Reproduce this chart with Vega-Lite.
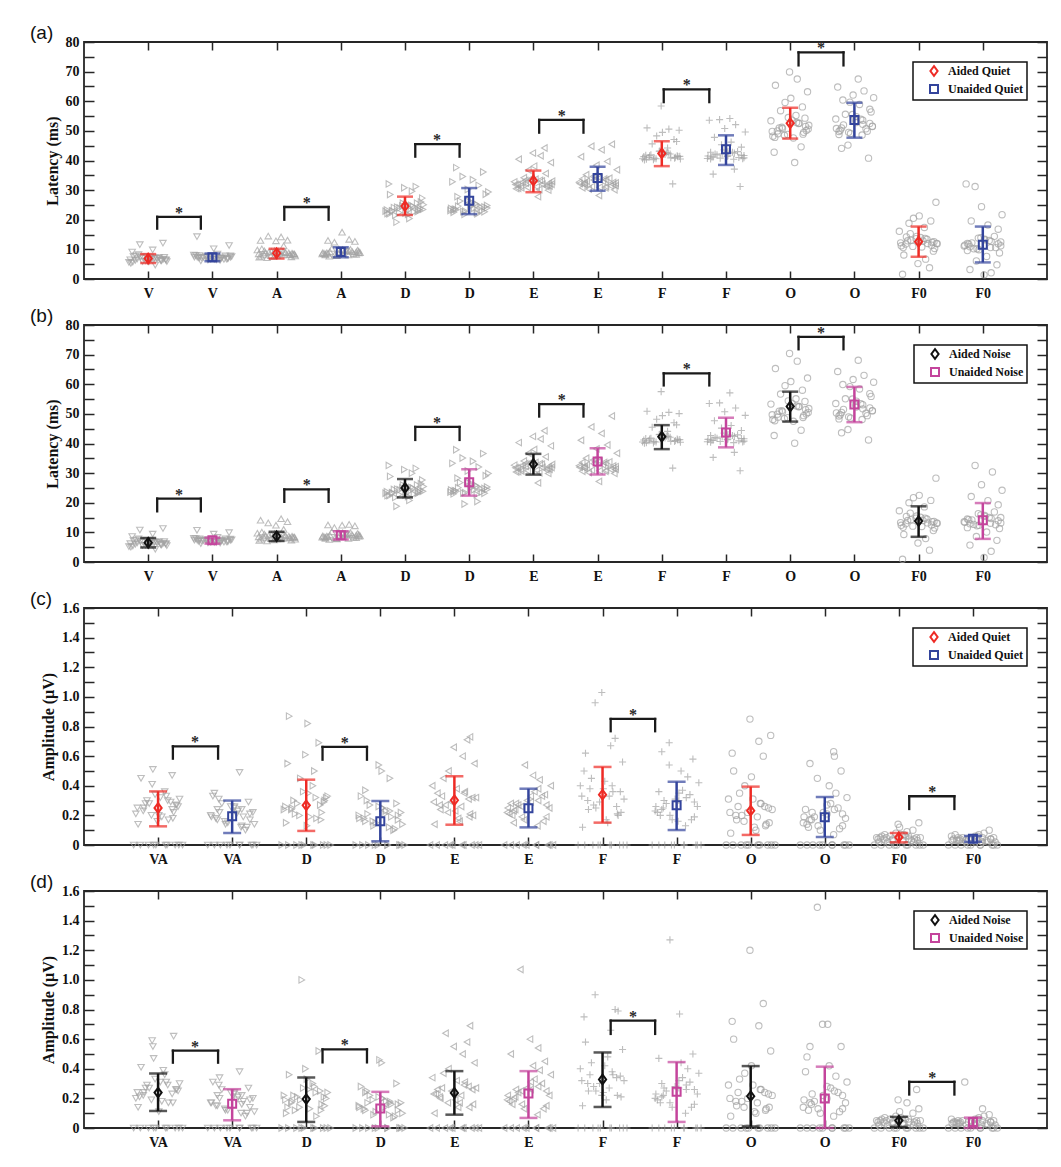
{
"$schema":"https://vega.github.io/schema/vega-lite/v6.json",
"background":"white",
"padding":{"left":29,"top":23,"right":5,"bottom":5},
"spacing":5,
"datasets":{
"ma":[{"c":1,"g":"Aided Quiet","m":6.9,"lo":5.4,"hi":8.4},{"c":2,"g":"Unaided Quiet","m":7.3,"lo":6.0,"hi":8.6},{"c":3,"g":"Aided Quiet","m":8.7,"lo":6.9,"hi":10.2},{"c":4,"g":"Unaided Quiet","m":9.1,"lo":7.3,"hi":10.7},{"c":5,"g":"Aided Quiet","m":24.6,"lo":21.6,"hi":27.8},{"c":6,"g":"Unaided Quiet","m":26.4,"lo":21.9,"hi":30.7},{"c":7,"g":"Aided Quiet","m":33.2,"lo":29.3,"hi":36.6},{"c":8,"g":"Unaided Quiet","m":34.1,"lo":29.8,"hi":37.9},{"c":9,"g":"Aided Quiet","m":42.4,"lo":38.1,"hi":46.5},{"c":10,"g":"Unaided Quiet","m":43.8,"lo":38.5,"hi":48.5},{"c":11,"g":"Aided Quiet","m":52.6,"lo":47.4,"hi":57.8},{"c":12,"g":"Unaided Quiet","m":53.7,"lo":47.7,"hi":59.5},{"c":13,"g":"Aided Quiet","m":12.6,"lo":7.5,"hi":17.7},{"c":14,"g":"Unaided Quiet","m":11.6,"lo":5.6,"hi":17.7}],
"mb":[{"c":1,"g":"Aided Noise","m":6.5,"lo":4.9,"hi":8.1},{"c":2,"g":"Unaided Noise","m":7.3,"lo":6.2,"hi":8.2},{"c":3,"g":"Aided Noise","m":8.7,"lo":7.1,"hi":10.2},{"c":4,"g":"Unaided Noise","m":9.0,"lo":7.6,"hi":10.4},{"c":5,"g":"Aided Noise","m":25.0,"lo":21.8,"hi":28.0},{"c":6,"g":"Unaided Noise","m":26.9,"lo":22.4,"hi":31.3},{"c":7,"g":"Aided Noise","m":33.0,"lo":29.5,"hi":36.5},{"c":8,"g":"Unaided Noise","m":33.9,"lo":29.5,"hi":38.4},{"c":9,"g":"Aided Noise","m":42.3,"lo":38.1,"hi":46.2},{"c":10,"g":"Unaided Noise","m":43.7,"lo":38.7,"hi":48.7},{"c":11,"g":"Aided Noise","m":52.5,"lo":47.4,"hi":57.5},{"c":12,"g":"Unaided Noise","m":53.2,"lo":47.2,"hi":59.1},{"c":13,"g":"Aided Noise","m":13.8,"lo":8.5,"hi":18.8},{"c":14,"g":"Unaided Noise","m":14.1,"lo":7.8,"hi":19.9}],
"mc":[{"c":1,"g":"Aided Quiet","m":0.25,"lo":0.126,"hi":0.362},{"c":2,"g":"Unaided Quiet","m":0.194,"lo":0.081,"hi":0.3},{"c":3,"g":"Aided Quiet","m":0.268,"lo":0.095,"hi":0.441},{"c":4,"g":"Unaided Quiet","m":0.16,"lo":0.025,"hi":0.297},{"c":5,"g":"Aided Quiet","m":0.302,"lo":0.137,"hi":0.464},{"c":6,"g":"Unaided Quiet","m":0.248,"lo":0.119,"hi":0.38},{"c":7,"g":"Aided Quiet","m":0.34,"lo":0.151,"hi":0.527},{"c":8,"g":"Unaided Quiet","m":0.268,"lo":0.101,"hi":0.427},{"c":9,"g":"Aided Quiet","m":0.232,"lo":0.068,"hi":0.394},{"c":10,"g":"Unaided Quiet","m":0.187,"lo":0.054,"hi":0.324},{"c":11,"g":"Aided Quiet","m":0.052,"lo":0.018,"hi":0.081},{"c":12,"g":"Unaided Quiet","m":0.043,"lo":0.022,"hi":0.061}],
"md":[{"c":1,"g":"Aided Noise","m":0.239,"lo":0.115,"hi":0.368},{"c":2,"g":"Unaided Noise","m":0.163,"lo":0.052,"hi":0.262},{"c":3,"g":"Aided Noise","m":0.195,"lo":0.041,"hi":0.341},{"c":4,"g":"Unaided Noise","m":0.131,"lo":0.011,"hi":0.244},{"c":5,"g":"Aided Noise","m":0.237,"lo":0.09,"hi":0.384},{"c":6,"g":"Unaided Noise","m":0.233,"lo":0.068,"hi":0.384},{"c":7,"g":"Aided Noise","m":0.328,"lo":0.142,"hi":0.51},{"c":8,"g":"Unaided Noise","m":0.244,"lo":0.041,"hi":0.445},{"c":9,"g":"Aided Noise","m":0.215,"lo":0.01,"hi":0.418},{"c":10,"g":"Unaided Noise","m":0.199,"lo":0.0,"hi":0.414},{"c":11,"g":"Aided Noise","m":0.05,"lo":0.007,"hi":0.075},{"c":12,"g":"Unaided Noise","m":0.041,"lo":0.0,"hi":0.07}],
"ba":[{"x1":1.14,"x2":1.82,"xm":1.48,"yl":17,"yh":21},{"x1":3.12,"x2":3.81,"xm":3.47,"yl":20,"yh":24.3},{"x1":5.16,"x2":5.85,"xm":5.5,"yl":41.3,"yh":45.5},{"x1":7.09,"x2":7.78,"xm":7.44,"yl":49.4,"yh":53.7},{"x1":9.03,"x2":9.74,"xm":9.39,"yl":59.7,"yh":64},{"x1":11.13,"x2":11.83,"xm":11.48,"yl":72.1,"yh":76.5}],
"bb":[{"x1":1.14,"x2":1.82,"xm":1.48,"yl":17.1,"yh":21.4},{"x1":3.12,"x2":3.81,"xm":3.47,"yl":20.3,"yh":24.5},{"x1":5.16,"x2":5.85,"xm":5.5,"yl":41.2,"yh":45.6},{"x1":7.09,"x2":7.78,"xm":7.44,"yl":49.1,"yh":53.3},{"x1":9.03,"x2":9.74,"xm":9.39,"yl":59.6,"yh":63.7},{"x1":11.13,"x2":11.83,"xm":11.48,"yl":71.8,"yh":76.0}],
"bc":[{"x1":1.2,"x2":1.81,"xm":1.5,"yl":0.583,"yh":0.666},{"x1":3.22,"x2":3.82,"xm":3.52,"yl":0.576,"yh":0.662},{"x1":7.11,"x2":7.71,"xm":7.41,"yl":0.768,"yh":0.851},{"x1":11.14,"x2":11.75,"xm":11.45,"yl":0.243,"yh":0.329}],
"bd":[{"x1":1.2,"x2":1.81,"xm":1.5,"yl":0.441,"yh":0.522},{"x1":3.22,"x2":3.82,"xm":3.52,"yl":0.443,"yh":0.531},{"x1":7.11,"x2":7.71,"xm":7.41,"yl":0.635,"yh":0.725},{"x1":11.14,"x2":11.75,"xm":11.45,"yl":0.226,"yh":0.312}],
"pa":[
{"x":0.73,"y":5.3},{"x":1.21,"y":6.2},{"x":0.88,"y":7.4},{"x":1.05,"y":6.6},{"x":1.29,"y":5.9},{"x":0.81,"y":7.8},{"x":1.14,"y":6.9},{"x":0.96,"y":6.1},{"x":1.25,"y":7.3},{"x":0.7,"y":5.6},{"x":1.09,"y":6.8},{"x":0.85,"y":8.2},{"x":1.19,"y":6.4},{"x":0.92,"y":7.1},{"x":1.01,"y":5.8},{"x":1.27,"y":6.5},{"x":0.77,"y":7.6},{"x":1.11,"y":4.7},{"x":0.99,"y":6.0},{"x":1.17,"y":7.2},{"x":0.75,"y":9.1},{"x":1.07,"y":9.8},{"x":0.87,"y":11.6},{"x":1.23,"y":12.1},
{"x":2.12,"y":6.3},{"x":1.78,"y":7.1},{"x":2.28,"y":7.8},{"x":1.94,"y":6.8},{"x":2.03,"y":7.5},{"x":1.71,"y":8.1},{"x":2.18,"y":6.6},{"x":1.86,"y":7.3},{"x":2.24,"y":7.0},{"x":2.08,"y":8.4},{"x":1.82,"y":6.1},{"x":2.3,"y":7.6},{"x":1.98,"y":6.9},{"x":2.15,"y":7.2},{"x":1.74,"y":8.0},{"x":2.06,"y":6.5},{"x":1.9,"y":7.4},{"x":2.22,"y":6.7},{"x":1.8,"y":7.9},{"x":2.13,"y":7.0},{"x":2.02,"y":10.2},{"x":1.76,"y":14.3},{"x":2.26,"y":11.3},{"x":1.93,"y":6.4},
{"x":2.73,"y":7.4},{"x":3.21,"y":8.2},{"x":2.88,"y":9.1},{"x":3.05,"y":8.6},{"x":3.29,"y":7.8},{"x":2.81,"y":9.5},{"x":3.14,"y":8.9},{"x":2.96,"y":7.6},{"x":3.25,"y":8.4},{"x":2.7,"y":9.8},{"x":3.09,"y":8.1},{"x":2.85,"y":7.2},{"x":3.19,"y":8.8},{"x":2.92,"y":9.3},{"x":3.01,"y":7.9},{"x":3.27,"y":8.5},{"x":2.77,"y":10.2},{"x":3.11,"y":11.2},{"x":2.99,"y":12.9},{"x":3.17,"y":13.1},{"x":2.75,"y":13.0},{"x":3.07,"y":14.2},{"x":2.87,"y":14.5},{"x":3.23,"y":7.5},
{"x":4.12,"y":8.1},{"x":3.78,"y":8.8},{"x":4.28,"y":9.4},{"x":3.94,"y":7.9},{"x":4.03,"y":9.9},{"x":3.71,"y":8.5},{"x":4.18,"y":9.2},{"x":3.86,"y":10.3},{"x":4.24,"y":8.3},{"x":4.08,"y":9.6},{"x":3.82,"y":7.7},{"x":4.3,"y":8.9},{"x":3.98,"y":9.1},{"x":4.15,"y":10.0},{"x":3.74,"y":8.6},{"x":4.06,"y":9.3},{"x":3.9,"y":12.4},{"x":4.22,"y":12.7},{"x":3.8,"y":13.0},{"x":4.13,"y":13.4},{"x":4.02,"y":15.8},{"x":3.76,"y":8.4},{"x":4.26,"y":9.7},{"x":3.93,"y":8.0},
{"x":4.73,"y":22.1},{"x":5.21,"y":23.4},{"x":4.88,"y":24.2},{"x":5.05,"y":21.8},{"x":5.29,"y":25.1},{"x":4.81,"y":23.0},{"x":5.14,"y":22.6},{"x":4.96,"y":24.7},{"x":5.25,"y":26.0},{"x":4.7,"y":22.9},{"x":5.09,"y":23.7},{"x":4.85,"y":21.5},{"x":5.19,"y":25.6},{"x":4.92,"y":24.0},{"x":5.01,"y":22.3},{"x":5.27,"y":27.3},{"x":4.77,"y":28.5},{"x":5.11,"y":29.6},{"x":4.99,"y":30.8},{"x":5.17,"y":31.2},{"x":4.75,"y":32.1},{"x":5.07,"y":20.4},{"x":4.87,"y":19.2},{"x":5.23,"y":23.2},
{"x":6.12,"y":22.4},{"x":5.78,"y":23.6},{"x":6.28,"y":24.8},{"x":5.94,"y":22.9},{"x":6.03,"y":25.5},{"x":5.71,"y":23.1},{"x":6.18,"y":24.2},{"x":5.86,"y":26.3},{"x":6.24,"y":22.7},{"x":6.08,"y":23.9},{"x":5.82,"y":27.8},{"x":6.3,"y":29.4},{"x":5.98,"y":30.2},{"x":6.15,"y":31.6},{"x":5.74,"y":32.8},{"x":6.06,"y":33.5},{"x":5.9,"y":34.6},{"x":6.22,"y":36.1},{"x":5.8,"y":37.6},{"x":6.13,"y":22.0},{"x":6.02,"y":24.5},{"x":5.76,"y":23.3},{"x":6.26,"y":28.6},{"x":5.93,"y":21.8},
{"x":6.73,"y":30.5},{"x":7.21,"y":31.6},{"x":6.88,"y":32.4},{"x":7.05,"y":31.1},{"x":7.29,"y":33.0},{"x":6.81,"y":30.8},{"x":7.14,"y":32.0},{"x":6.96,"y":33.6},{"x":7.25,"y":31.4},{"x":6.7,"y":32.8},{"x":7.09,"y":30.2},{"x":6.85,"y":34.2},{"x":7.19,"y":35.6},{"x":6.92,"y":36.8},{"x":7.01,"y":38.1},{"x":7.27,"y":39.3},{"x":6.77,"y":40.4},{"x":7.11,"y":41.6},{"x":6.99,"y":42.5},{"x":7.17,"y":44.2},{"x":6.75,"y":31.9},{"x":7.07,"y":27.8},{"x":6.87,"y":33.3},{"x":7.23,"y":30.0},
{"x":8.12,"y":30.8},{"x":7.78,"y":32.1},{"x":8.28,"y":31.5},{"x":7.94,"y":33.4},{"x":8.03,"y":31.0},{"x":7.71,"y":32.7},{"x":8.18,"y":34.0},{"x":7.86,"y":30.4},{"x":8.24,"y":31.9},{"x":8.08,"y":33.0},{"x":7.82,"y":35.2},{"x":8.3,"y":36.9},{"x":7.98,"y":38.4},{"x":8.15,"y":39.7},{"x":7.74,"y":41.3},{"x":8.06,"y":43.6},{"x":7.9,"y":44.8},{"x":8.22,"y":45.5},{"x":7.8,"y":32.4},{"x":8.13,"y":31.2},{"x":8.02,"y":28.2},{"x":7.76,"y":33.8},{"x":8.26,"y":30.1},{"x":7.93,"y":34.6},
{"x":8.73,"y":40.2},{"x":9.21,"y":41.1},{"x":8.88,"y":40.8},{"x":9.05,"y":42.0},{"x":9.29,"y":40.5},{"x":8.81,"y":41.6},{"x":9.14,"y":40.9},{"x":8.96,"y":43.1},{"x":9.25,"y":41.3},{"x":8.7,"y":40.6},{"x":9.09,"y":44.2},{"x":8.85,"y":45.6},{"x":9.19,"y":47.1},{"x":8.92,"y":48.3},{"x":9.01,"y":49.5},{"x":9.27,"y":50.2},{"x":8.77,"y":51.0},{"x":9.11,"y":50.6},{"x":8.99,"y":58.4},{"x":9.17,"y":32.1},{"x":8.75,"y":41.8},{"x":9.07,"y":42.6},{"x":8.87,"y":40.3},{"x":9.23,"y":46.4},
{"x":10.12,"y":40.4},{"x":9.78,"y":41.2},{"x":10.28,"y":40.9},{"x":9.94,"y":42.3},{"x":10.03,"y":41.6},{"x":9.71,"y":40.7},{"x":10.18,"y":43.0},{"x":9.86,"y":41.9},{"x":10.24,"y":44.5},{"x":10.08,"y":46.2},{"x":9.82,"y":47.8},{"x":10.3,"y":49.6},{"x":9.98,"y":50.8},{"x":10.15,"y":52.1},{"x":9.74,"y":53.6},{"x":10.06,"y":54.2},{"x":9.9,"y":53.8},{"x":10.22,"y":31.2},{"x":9.8,"y":35.4},{"x":10.13,"y":37.1},{"x":10.02,"y":41.4},{"x":9.76,"y":42.8},{"x":10.26,"y":40.6},{"x":9.93,"y":45.3},
{"x":10.73,"y":48.2},{"x":11.21,"y":49.5},{"x":10.88,"y":50.8},{"x":11.05,"y":47.6},{"x":11.29,"y":51.9},{"x":10.81,"y":49.0},{"x":11.14,"y":52.6},{"x":10.96,"y":48.8},{"x":11.25,"y":50.1},{"x":10.7,"y":53.4},{"x":11.09,"y":55.2},{"x":10.85,"y":56.8},{"x":11.19,"y":58.1},{"x":10.92,"y":59.6},{"x":11.01,"y":61.0},{"x":11.27,"y":63.2},{"x":10.77,"y":65.4},{"x":11.11,"y":67.5},{"x":10.99,"y":69.9},{"x":11.17,"y":44.6},{"x":10.75,"y":42.8},{"x":11.07,"y":39.3},{"x":10.87,"y":51.2},{"x":11.23,"y":54.3},
{"x":12.12,"y":48.6},{"x":11.78,"y":50.2},{"x":12.28,"y":51.5},{"x":11.94,"y":49.1},{"x":12.03,"y":52.8},{"x":11.71,"y":54.0},{"x":12.18,"y":50.7},{"x":11.86,"y":55.6},{"x":12.24,"y":57.3},{"x":12.08,"y":58.9},{"x":11.82,"y":60.4},{"x":12.3,"y":61.2},{"x":11.98,"y":62.1},{"x":12.15,"y":63.5},{"x":11.74,"y":64.8},{"x":12.06,"y":67.5},{"x":11.9,"y":45.2},{"x":12.22,"y":40.8},{"x":11.8,"y":44.1},{"x":12.13,"y":52.2},{"x":12.02,"y":53.5},{"x":11.76,"y":49.8},{"x":12.26,"y":56.4},{"x":11.93,"y":59.7},
{"x":12.73,"y":11.2},{"x":13.21,"y":12.4},{"x":12.88,"y":13.1},{"x":13.05,"y":10.8},{"x":13.29,"y":11.9},{"x":12.81,"y":14.2},{"x":13.14,"y":12.0},{"x":12.96,"y":13.6},{"x":13.25,"y":10.3},{"x":12.7,"y":16.1},{"x":13.09,"y":17.4},{"x":12.85,"y":18.8},{"x":13.19,"y":19.6},{"x":12.92,"y":20.5},{"x":13.01,"y":21.3},{"x":13.27,"y":25.9},{"x":12.77,"y":8.1},{"x":13.11,"y":6.7},{"x":12.99,"y":5.2},{"x":13.17,"y":3.8},{"x":12.75,"y":1.6},{"x":13.07,"y":12.8},{"x":12.87,"y":15.3},{"x":13.23,"y":9.4},
{"x":14.12,"y":10.6},{"x":13.78,"y":11.8},{"x":14.28,"y":12.5},{"x":13.94,"y":9.9},{"x":14.03,"y":13.2},{"x":13.71,"y":11.1},{"x":14.18,"y":14.4},{"x":13.86,"y":10.2},{"x":14.24,"y":16.8},{"x":14.08,"y":18.2},{"x":13.82,"y":19.6},{"x":14.3,"y":21.7},{"x":13.98,"y":24.4},{"x":13.88,"y":31.2},{"x":13.74,"y":32.1},{"x":14.06,"y":7.6},{"x":13.9,"y":6.1},{"x":14.22,"y":4.8},{"x":13.8,"y":3.2},{"x":14.13,"y":2.1},{"x":14.02,"y":1.4},{"x":13.76,"y":12.0},{"x":14.26,"y":8.8},{"x":13.93,"y":13.8},
{"x":0.8,"y":6.3},{"x":1.24,"y":6.7},{"x":0.91,"y":5.9},{"x":1.13,"y":7.0},{"x":0.72,"y":6.5},{"x":1.03,"y":7.4},{"x":1.2,"y":6.1},{"x":0.83,"y":6.8},{"x":1.1,"y":7.1},{"x":0.76,"y":5.7},{"x":1.28,"y":6.4},{"x":0.97,"y":7.6},
{"x":1.8,"y":7.2},{"x":2.24,"y":6.8},{"x":1.91,"y":7.6},{"x":2.13,"y":7.0},{"x":1.72,"y":7.4},{"x":2.03,"y":6.6},{"x":2.2,"y":7.8},{"x":1.83,"y":7.1},{"x":2.1,"y":6.9},{"x":1.76,"y":7.5},{"x":2.28,"y":7.3},{"x":1.97,"y":6.7},
{"x":2.8,"y":8.3},{"x":3.24,"y":8.7},{"x":2.91,"y":7.9},{"x":3.13,"y":9.0},{"x":2.72,"y":8.5},{"x":3.03,"y":9.4},{"x":3.2,"y":8.1},{"x":2.83,"y":8.8},{"x":3.1,"y":9.2},{"x":2.76,"y":7.7},{"x":3.28,"y":8.4},{"x":2.97,"y":9.6},
{"x":3.8,"y":8.7},{"x":4.24,"y":9.1},{"x":3.91,"y":8.3},{"x":4.13,"y":9.5},{"x":3.72,"y":8.9},{"x":4.03,"y":9.8},{"x":4.2,"y":8.5},{"x":3.83,"y":9.2},{"x":4.1,"y":9.6},{"x":3.76,"y":8.1},{"x":4.28,"y":8.8},{"x":3.97,"y":10.1},
{"x":4.8,"y":23.0},{"x":5.24,"y":23.8},{"x":4.91,"y":22.4},{"x":5.13,"y":24.5},{"x":4.72,"y":23.3},{"x":5.03,"y":25.2},{"x":5.2,"y":22.8},{"x":4.83,"y":24.1},{"x":5.1,"y":24.8},{"x":4.76,"y":22.0},{"x":5.28,"y":23.5},{"x":4.97,"y":25.6},
{"x":5.8,"y":23.4},{"x":6.24,"y":24.3},{"x":5.91,"y":22.8},{"x":6.13,"y":25.0},{"x":5.72,"y":23.8},{"x":6.03,"y":26.0},{"x":6.2,"y":23.1},{"x":5.83,"y":24.6},{"x":6.1,"y":25.4},{"x":5.76,"y":22.5},{"x":6.28,"y":24.0},{"x":5.97,"y":26.5},
{"x":6.8,"y":31.5},{"x":7.24,"y":32.3},{"x":6.91,"y":30.9},{"x":7.13,"y":33.1},{"x":6.72,"y":31.9},{"x":7.03,"y":33.7},{"x":7.2,"y":31.2},{"x":6.83,"y":32.6},{"x":7.1,"y":33.3},{"x":6.76,"y":30.6},{"x":7.28,"y":32.0},{"x":6.97,"y":34.0},
{"x":7.8,"y":31.8},{"x":8.24,"y":32.6},{"x":7.91,"y":31.2},{"x":8.13,"y":33.5},{"x":7.72,"y":32.2},{"x":8.03,"y":34.2},{"x":8.2,"y":31.5},{"x":7.83,"y":33.0},{"x":8.1,"y":33.8},{"x":7.76,"y":30.8},{"x":8.28,"y":32.4},{"x":7.97,"y":34.6},
{"x":8.8,"y":41.0},{"x":9.24,"y":41.6},{"x":8.91,"y":40.6},{"x":9.13,"y":42.2},{"x":8.72,"y":41.3},{"x":9.03,"y":42.8},{"x":9.2,"y":40.8},{"x":8.83,"y":41.9},{"x":9.1,"y":42.5},{"x":8.76,"y":40.4},{"x":9.28,"y":41.4},{"x":8.97,"y":43.2},
{"x":9.8,"y":41.2},{"x":10.24,"y":41.8},{"x":9.91,"y":40.8},{"x":10.13,"y":42.5},{"x":9.72,"y":41.5},{"x":10.03,"y":43.1},{"x":10.2,"y":41.0},{"x":9.83,"y":42.2},{"x":10.1,"y":42.8},{"x":9.76,"y":40.5},{"x":10.28,"y":41.7},{"x":9.97,"y":43.6},
{"x":10.8,"y":50.0},{"x":11.24,"y":51.5},{"x":10.91,"y":48.5},{"x":11.13,"y":52.5},{"x":10.72,"y":49.8},{"x":11.03,"y":53.6},{"x":11.2,"y":48.9},{"x":10.83,"y":51.0},{"x":11.1,"y":52.8},{"x":10.76,"y":47.8},{"x":11.28,"y":50.6},{"x":10.97,"y":54.5},
{"x":11.8,"y":51.0},{"x":12.24,"y":52.5},{"x":11.91,"y":49.5},{"x":12.13,"y":53.6},{"x":11.72,"y":50.8},{"x":12.03,"y":54.8},{"x":12.2,"y":49.9},{"x":11.83,"y":52.0},{"x":12.1,"y":53.9},{"x":11.76,"y":48.8},{"x":12.28,"y":51.6},{"x":11.97,"y":55.5},
{"x":12.8,"y":11.8},{"x":13.24,"y":12.6},{"x":12.91,"y":11.0},{"x":13.13,"y":13.4},{"x":12.72,"y":12.2},{"x":13.03,"y":14.0},{"x":13.2,"y":11.4},{"x":12.83,"y":12.9},{"x":13.1,"y":13.7},{"x":12.76,"y":10.6},{"x":13.28,"y":12.0},{"x":12.97,"y":14.4},
{"x":13.8,"y":10.9},{"x":14.24,"y":11.9},{"x":13.91,"y":10.2},{"x":14.13,"y":12.7},{"x":13.72,"y":11.4},{"x":14.03,"y":13.4},{"x":14.2,"y":10.6},{"x":13.83,"y":12.2},{"x":14.1,"y":13.0},{"x":13.76,"y":9.6},{"x":14.28,"y":11.2},{"x":13.97,"y":13.9}
],
"pb":[
{"x":0.73,"y":5.0},{"x":1.21,"y":5.8},{"x":0.88,"y":7.0},{"x":1.05,"y":6.2},{"x":1.29,"y":5.5},{"x":0.81,"y":7.4},{"x":1.14,"y":6.5},{"x":0.96,"y":5.7},{"x":1.25,"y":6.9},{"x":0.7,"y":5.2},{"x":1.09,"y":6.4},{"x":0.85,"y":7.8},{"x":1.19,"y":6.0},{"x":0.92,"y":6.7},{"x":1.01,"y":5.4},{"x":1.27,"y":6.1},{"x":0.77,"y":7.2},{"x":1.11,"y":4.3},{"x":0.99,"y":5.6},{"x":1.17,"y":6.8},{"x":0.75,"y":8.6},{"x":1.07,"y":9.4},{"x":0.87,"y":10.8},{"x":1.23,"y":11.3},
{"x":2.12,"y":6.4},{"x":1.78,"y":7.0},{"x":2.28,"y":7.7},{"x":1.94,"y":6.9},{"x":2.03,"y":7.4},{"x":1.71,"y":8.0},{"x":2.18,"y":6.7},{"x":1.86,"y":7.2},{"x":2.24,"y":7.1},{"x":2.08,"y":8.3},{"x":1.82,"y":6.2},{"x":2.3,"y":7.5},{"x":1.98,"y":6.8},{"x":2.15,"y":7.3},{"x":1.74,"y":7.9},{"x":2.06,"y":6.6},{"x":1.9,"y":7.3},{"x":2.22,"y":6.8},{"x":1.8,"y":7.8},{"x":2.13,"y":7.1},{"x":2.02,"y":9.4},{"x":1.76,"y":10.7},{"x":2.26,"y":9.9},{"x":1.93,"y":6.5},
{"x":2.73,"y":7.3},{"x":3.21,"y":8.1},{"x":2.88,"y":9.0},{"x":3.05,"y":8.5},{"x":3.29,"y":7.7},{"x":2.81,"y":9.4},{"x":3.14,"y":8.8},{"x":2.96,"y":7.5},{"x":3.25,"y":8.3},{"x":2.7,"y":9.7},{"x":3.09,"y":8.0},{"x":2.85,"y":7.1},{"x":3.19,"y":8.7},{"x":2.92,"y":9.2},{"x":3.01,"y":7.8},{"x":3.27,"y":8.4},{"x":2.77,"y":10.1},{"x":3.11,"y":11.0},{"x":2.99,"y":12.4},{"x":3.17,"y":13.6},{"x":2.75,"y":14.1},{"x":3.07,"y":14.6},{"x":2.87,"y":13.2},{"x":3.23,"y":7.4},
{"x":4.12,"y":8.0},{"x":3.78,"y":8.7},{"x":4.28,"y":9.3},{"x":3.94,"y":7.8},{"x":4.03,"y":9.8},{"x":3.71,"y":8.4},{"x":4.18,"y":9.1},{"x":3.86,"y":10.2},{"x":4.24,"y":8.2},{"x":4.08,"y":9.5},{"x":3.82,"y":7.6},{"x":4.3,"y":8.8},{"x":3.98,"y":9.0},{"x":4.15,"y":9.9},{"x":3.74,"y":8.5},{"x":4.06,"y":9.2},{"x":3.9,"y":11.6},{"x":4.22,"y":12.2},{"x":3.8,"y":12.5},{"x":4.13,"y":12.7},{"x":4.02,"y":12.4},{"x":3.76,"y":8.3},{"x":4.26,"y":9.6},{"x":3.93,"y":7.9},
{"x":4.73,"y":22.4},{"x":5.21,"y":23.8},{"x":4.88,"y":24.6},{"x":5.05,"y":22.1},{"x":5.29,"y":25.5},{"x":4.81,"y":23.3},{"x":5.14,"y":22.9},{"x":4.96,"y":25.1},{"x":5.25,"y":26.4},{"x":4.7,"y":23.2},{"x":5.09,"y":24.1},{"x":4.85,"y":21.8},{"x":5.19,"y":26.0},{"x":4.92,"y":24.4},{"x":5.01,"y":22.6},{"x":5.27,"y":27.7},{"x":4.77,"y":28.9},{"x":5.11,"y":30.0},{"x":4.99,"y":31.2},{"x":5.17,"y":31.6},{"x":4.75,"y":32.6},{"x":5.07,"y":20.8},{"x":4.87,"y":18.8},{"x":5.23,"y":23.6},
{"x":6.12,"y":22.8},{"x":5.78,"y":24.1},{"x":6.28,"y":25.3},{"x":5.94,"y":23.4},{"x":6.03,"y":26.0},{"x":5.71,"y":23.6},{"x":6.18,"y":24.7},{"x":5.86,"y":26.8},{"x":6.24,"y":23.2},{"x":6.08,"y":24.4},{"x":5.82,"y":28.3},{"x":6.3,"y":29.9},{"x":5.98,"y":30.7},{"x":6.15,"y":32.1},{"x":5.74,"y":33.3},{"x":6.06,"y":34.0},{"x":5.9,"y":35.1},{"x":6.22,"y":36.6},{"x":5.8,"y":37.9},{"x":6.13,"y":20.4},{"x":6.02,"y":25.0},{"x":5.76,"y":23.8},{"x":6.26,"y":29.1},{"x":5.93,"y":19.6},
{"x":6.73,"y":30.4},{"x":7.21,"y":31.5},{"x":6.88,"y":32.3},{"x":7.05,"y":31.0},{"x":7.29,"y":32.9},{"x":6.81,"y":30.7},{"x":7.14,"y":31.9},{"x":6.96,"y":33.5},{"x":7.25,"y":31.3},{"x":6.7,"y":32.7},{"x":7.09,"y":30.1},{"x":6.85,"y":34.1},{"x":7.19,"y":35.5},{"x":6.92,"y":36.7},{"x":7.01,"y":38.0},{"x":7.27,"y":39.2},{"x":6.77,"y":40.3},{"x":7.11,"y":41.5},{"x":6.99,"y":42.4},{"x":7.17,"y":44.3},{"x":6.75,"y":31.8},{"x":7.07,"y":26.7},{"x":6.87,"y":33.2},{"x":7.23,"y":29.9},
{"x":8.12,"y":30.6},{"x":7.78,"y":31.9},{"x":8.28,"y":31.3},{"x":7.94,"y":33.2},{"x":8.03,"y":30.8},{"x":7.71,"y":32.5},{"x":8.18,"y":33.8},{"x":7.86,"y":30.2},{"x":8.24,"y":31.7},{"x":8.08,"y":32.8},{"x":7.82,"y":35.0},{"x":8.3,"y":36.7},{"x":7.98,"y":38.2},{"x":8.15,"y":39.5},{"x":7.74,"y":41.1},{"x":8.06,"y":43.4},{"x":7.9,"y":45.6},{"x":8.22,"y":49.3},{"x":7.8,"y":32.2},{"x":8.13,"y":31.0},{"x":8.02,"y":27.2},{"x":7.76,"y":33.6},{"x":8.26,"y":29.9},{"x":7.93,"y":34.4},
{"x":8.73,"y":40.1},{"x":9.21,"y":41.0},{"x":8.88,"y":40.7},{"x":9.05,"y":41.9},{"x":9.29,"y":40.4},{"x":8.81,"y":41.5},{"x":9.14,"y":40.8},{"x":8.96,"y":43.0},{"x":9.25,"y":41.2},{"x":8.7,"y":40.5},{"x":9.09,"y":44.1},{"x":8.85,"y":45.5},{"x":9.19,"y":47.0},{"x":8.92,"y":48.2},{"x":9.01,"y":49.4},{"x":9.27,"y":50.1},{"x":8.77,"y":50.9},{"x":9.11,"y":50.5},{"x":8.99,"y":57.5},{"x":9.17,"y":31.7},{"x":8.75,"y":41.7},{"x":9.07,"y":42.5},{"x":8.87,"y":40.2},{"x":9.23,"y":46.3},
{"x":10.12,"y":40.3},{"x":9.78,"y":41.1},{"x":10.28,"y":40.8},{"x":9.94,"y":42.2},{"x":10.03,"y":41.5},{"x":9.71,"y":40.6},{"x":10.18,"y":42.9},{"x":9.86,"y":41.8},{"x":10.24,"y":44.4},{"x":10.08,"y":46.1},{"x":9.82,"y":47.7},{"x":10.3,"y":49.5},{"x":9.98,"y":50.7},{"x":10.15,"y":52.0},{"x":9.74,"y":53.5},{"x":10.06,"y":57.1},{"x":9.9,"y":53.7},{"x":10.22,"y":30.8},{"x":9.8,"y":35.3},{"x":10.13,"y":37.0},{"x":10.02,"y":41.3},{"x":9.76,"y":42.7},{"x":10.26,"y":40.5},{"x":9.93,"y":45.2},
{"x":10.73,"y":48.1},{"x":11.21,"y":49.4},{"x":10.88,"y":50.7},{"x":11.05,"y":47.5},{"x":11.29,"y":51.8},{"x":10.81,"y":48.9},{"x":11.14,"y":52.5},{"x":10.96,"y":48.7},{"x":11.25,"y":50.0},{"x":10.7,"y":53.3},{"x":11.09,"y":55.1},{"x":10.85,"y":56.7},{"x":11.19,"y":58.0},{"x":10.92,"y":59.5},{"x":11.01,"y":60.9},{"x":11.27,"y":62.1},{"x":10.77,"y":65.3},{"x":11.11,"y":67.8},{"x":10.99,"y":70.4},{"x":11.17,"y":44.5},{"x":10.75,"y":42.7},{"x":11.07,"y":40.1},{"x":10.87,"y":51.1},{"x":11.23,"y":54.2},
{"x":12.12,"y":48.1},{"x":11.78,"y":49.7},{"x":12.28,"y":51.0},{"x":11.94,"y":48.6},{"x":12.03,"y":52.3},{"x":11.71,"y":53.5},{"x":12.18,"y":50.2},{"x":11.86,"y":55.1},{"x":12.24,"y":56.8},{"x":12.08,"y":58.4},{"x":11.82,"y":59.9},{"x":12.3,"y":60.7},{"x":11.98,"y":61.6},{"x":12.15,"y":63.0},{"x":11.74,"y":64.3},{"x":12.06,"y":68.1},{"x":11.9,"y":44.7},{"x":12.22,"y":41.2},{"x":11.8,"y":43.6},{"x":12.13,"y":51.7},{"x":12.02,"y":53.0},{"x":11.76,"y":49.3},{"x":12.26,"y":55.9},{"x":11.93,"y":59.2},
{"x":12.73,"y":12.4},{"x":13.21,"y":13.6},{"x":12.88,"y":14.3},{"x":13.05,"y":12.0},{"x":13.29,"y":13.1},{"x":12.81,"y":15.4},{"x":13.14,"y":13.2},{"x":12.96,"y":14.8},{"x":13.25,"y":11.5},{"x":12.7,"y":17.3},{"x":13.09,"y":18.6},{"x":12.85,"y":20.0},{"x":13.19,"y":20.8},{"x":12.92,"y":21.7},{"x":13.01,"y":22.5},{"x":13.27,"y":28.3},{"x":12.77,"y":9.3},{"x":13.11,"y":7.9},{"x":12.99,"y":6.4},{"x":13.17,"y":4.0},{"x":12.75,"y":0.9},{"x":13.07,"y":14.0},{"x":12.87,"y":16.5},{"x":13.23,"y":10.6},
{"x":14.12,"y":13.1},{"x":13.78,"y":14.3},{"x":14.28,"y":15.0},{"x":13.94,"y":12.4},{"x":14.03,"y":15.7},{"x":13.71,"y":13.6},{"x":14.18,"y":16.9},{"x":13.86,"y":12.7},{"x":14.24,"y":19.3},{"x":14.08,"y":20.7},{"x":13.82,"y":22.1},{"x":14.3,"y":24.2},{"x":13.98,"y":26.1},{"x":13.88,"y":32.6},{"x":14.15,"y":30.4},{"x":14.06,"y":10.1},{"x":13.9,"y":8.6},{"x":14.22,"y":7.3},{"x":13.8,"y":5.7},{"x":14.13,"y":3.6},{"x":14.02,"y":1.5},{"x":13.76,"y":14.5},{"x":14.26,"y":11.3},{"x":13.93,"y":16.3},
{"x":0.8,"y":6.0},{"x":1.24,"y":6.4},{"x":0.91,"y":5.6},{"x":1.13,"y":6.7},{"x":0.72,"y":6.2},{"x":1.03,"y":7.1},{"x":1.2,"y":5.8},{"x":0.83,"y":6.5},{"x":1.1,"y":6.8},{"x":0.76,"y":5.4},{"x":1.28,"y":6.1},{"x":0.97,"y":7.3},
{"x":1.8,"y":7.2},{"x":2.24,"y":6.8},{"x":1.91,"y":7.6},{"x":2.13,"y":7.0},{"x":1.72,"y":7.4},{"x":2.03,"y":6.6},{"x":2.2,"y":7.8},{"x":1.83,"y":7.1},{"x":2.1,"y":6.9},{"x":1.76,"y":7.5},{"x":2.28,"y":7.3},{"x":1.97,"y":6.7},
{"x":2.8,"y":8.3},{"x":3.24,"y":8.7},{"x":2.91,"y":7.9},{"x":3.13,"y":9.0},{"x":2.72,"y":8.5},{"x":3.03,"y":9.4},{"x":3.2,"y":8.1},{"x":2.83,"y":8.8},{"x":3.1,"y":9.2},{"x":2.76,"y":7.7},{"x":3.28,"y":8.4},{"x":2.97,"y":9.6},
{"x":3.8,"y":8.6},{"x":4.24,"y":9.0},{"x":3.91,"y":8.2},{"x":4.13,"y":9.4},{"x":3.72,"y":8.8},{"x":4.03,"y":9.7},{"x":4.2,"y":8.4},{"x":3.83,"y":9.1},{"x":4.1,"y":9.5},{"x":3.76,"y":8.0},{"x":4.28,"y":8.7},{"x":3.97,"y":10.0},
{"x":4.8,"y":23.4},{"x":5.24,"y":24.2},{"x":4.91,"y":22.8},{"x":5.13,"y":24.9},{"x":4.72,"y":23.7},{"x":5.03,"y":25.6},{"x":5.2,"y":23.2},{"x":4.83,"y":24.5},{"x":5.1,"y":25.2},{"x":4.76,"y":22.4},{"x":5.28,"y":23.9},{"x":4.97,"y":26.0},
{"x":5.8,"y":23.9},{"x":6.24,"y":24.8},{"x":5.91,"y":23.3},{"x":6.13,"y":25.5},{"x":5.72,"y":24.3},{"x":6.03,"y":26.5},{"x":6.2,"y":23.6},{"x":5.83,"y":25.1},{"x":6.1,"y":25.9},{"x":5.76,"y":23.0},{"x":6.28,"y":24.5},{"x":5.97,"y":27.0},
{"x":6.8,"y":31.4},{"x":7.24,"y":32.2},{"x":6.91,"y":30.8},{"x":7.13,"y":33.0},{"x":6.72,"y":31.8},{"x":7.03,"y":33.6},{"x":7.2,"y":31.1},{"x":6.83,"y":32.5},{"x":7.1,"y":33.2},{"x":6.76,"y":30.5},{"x":7.28,"y":31.9},{"x":6.97,"y":33.9},
{"x":7.8,"y":31.6},{"x":8.24,"y":32.4},{"x":7.91,"y":31.0},{"x":8.13,"y":33.3},{"x":7.72,"y":32.0},{"x":8.03,"y":34.0},{"x":8.2,"y":31.3},{"x":7.83,"y":32.8},{"x":8.1,"y":33.6},{"x":7.76,"y":30.6},{"x":8.28,"y":32.2},{"x":7.97,"y":34.4},
{"x":8.8,"y":40.9},{"x":9.24,"y":41.5},{"x":8.91,"y":40.5},{"x":9.13,"y":42.1},{"x":8.72,"y":41.2},{"x":9.03,"y":42.7},{"x":9.2,"y":40.7},{"x":8.83,"y":41.8},{"x":9.1,"y":42.4},{"x":8.76,"y":40.3},{"x":9.28,"y":41.3},{"x":8.97,"y":43.1},
{"x":9.8,"y":41.1},{"x":10.24,"y":41.7},{"x":9.91,"y":40.7},{"x":10.13,"y":42.4},{"x":9.72,"y":41.4},{"x":10.03,"y":43.0},{"x":10.2,"y":40.9},{"x":9.83,"y":42.1},{"x":10.1,"y":42.7},{"x":9.76,"y":40.4},{"x":10.28,"y":41.6},{"x":9.97,"y":43.5},
{"x":10.8,"y":49.9},{"x":11.24,"y":51.4},{"x":10.91,"y":48.4},{"x":11.13,"y":52.4},{"x":10.72,"y":49.7},{"x":11.03,"y":53.5},{"x":11.2,"y":48.8},{"x":10.83,"y":50.9},{"x":11.1,"y":52.7},{"x":10.76,"y":47.7},{"x":11.28,"y":50.5},{"x":10.97,"y":54.4},
{"x":11.8,"y":50.5},{"x":12.24,"y":52.0},{"x":11.91,"y":49.0},{"x":12.13,"y":53.1},{"x":11.72,"y":50.3},{"x":12.03,"y":54.3},{"x":12.2,"y":49.4},{"x":11.83,"y":51.5},{"x":12.1,"y":53.4},{"x":11.76,"y":48.3},{"x":12.28,"y":51.1},{"x":11.97,"y":55.0},
{"x":12.8,"y":12.9},{"x":13.24,"y":13.7},{"x":12.91,"y":12.1},{"x":13.13,"y":14.5},{"x":12.72,"y":13.3},{"x":13.03,"y":15.1},{"x":13.2,"y":12.5},{"x":12.83,"y":14.0},{"x":13.1,"y":14.8},{"x":12.76,"y":11.7},{"x":13.28,"y":13.1},{"x":12.97,"y":15.5},
{"x":13.8,"y":12.9},{"x":14.24,"y":13.9},{"x":13.91,"y":12.2},{"x":14.13,"y":14.7},{"x":13.72,"y":13.4},{"x":14.03,"y":15.4},{"x":14.2,"y":12.6},{"x":13.83,"y":14.2},{"x":14.1,"y":15.0},{"x":13.76,"y":11.6},{"x":14.28,"y":13.2},{"x":13.97,"y":15.9}
],
"pc":[
{"x":0.73,"y":0.14},{"x":1.21,"y":0.22},{"x":0.88,"y":0.28},{"x":1.05,"y":0.19},{"x":1.29,"y":0.31},{"x":0.81,"y":0.25},{"x":1.14,"y":0.17},{"x":0.96,"y":0.34},{"x":1.25,"y":0.27},{"x":0.7,"y":0.21},{"x":1.09,"y":0.36},{"x":0.85,"y":0.3},{"x":1.19,"y":0.24},{"x":0.92,"y":0.41},{"x":1.01,"y":0.2},{"x":1.27,"y":0.26},{"x":0.77,"y":0.45},{"x":1.11,"y":0.33},{"x":0.99,"y":0.16},{"x":1.17,"y":0.29},{"x":0.93,"y":0.51},{"x":1.19,"y":0.47},{"x":0.87,"y":0},{"x":1.23,"y":0},{"x":0.67,"y":0},{"x":1.33,"y":0},{"x":0.94,"y":0},{"x":1.12,"y":0},
{"x":2.12,"y":0.12},{"x":1.78,"y":0.18},{"x":2.28,"y":0.22},{"x":1.94,"y":0.15},{"x":2.03,"y":0.25},{"x":1.71,"y":0.2},{"x":2.18,"y":0.1},{"x":1.86,"y":0.28},{"x":2.24,"y":0.17},{"x":2.08,"y":0.23},{"x":1.82,"y":0.31},{"x":2.3,"y":0.14},{"x":1.98,"y":0.26},{"x":2.15,"y":0.19},{"x":1.74,"y":0.33},{"x":2.06,"y":0.21},{"x":1.9,"y":0.16},{"x":2.22,"y":0.29},{"x":1.8,"y":0.24},{"x":2.13,"y":0.13},{"x":2.1,"y":0.49},{"x":1.76,"y":0.35},{"x":2.26,"y":0},{"x":1.93,"y":0},{"x":2.33,"y":0},{"x":1.67,"y":0},{"x":2.1,"y":0},{"x":1.84,"y":0},
{"x":2.73,"y":0.15},{"x":3.21,"y":0.22},{"x":2.88,"y":0.28},{"x":3.05,"y":0.19},{"x":3.29,"y":0.33},{"x":2.81,"y":0.25},{"x":3.14,"y":0.18},{"x":2.96,"y":0.36},{"x":3.25,"y":0.3},{"x":2.7,"y":0.24},{"x":3.09,"y":0.4},{"x":2.85,"y":0.21},{"x":3.19,"y":0.27},{"x":2.92,"y":0.45},{"x":3.01,"y":0.13},{"x":3.27,"y":0.32},{"x":2.77,"y":0.87},{"x":3.11,"y":0.5},{"x":2.99,"y":0.61},{"x":3.17,"y":0.69},{"x":2.75,"y":0.55},{"x":3.02,"y":0.82},{"x":2.87,"y":0},{"x":3.23,"y":0},{"x":2.67,"y":0},{"x":3.33,"y":0},{"x":2.94,"y":0},{"x":3.12,"y":0},
{"x":4.12,"y":0.12},{"x":3.78,"y":0.18},{"x":4.28,"y":0.22},{"x":3.94,"y":0.15},{"x":4.03,"y":0.25},{"x":3.71,"y":0.2},{"x":4.18,"y":0.1},{"x":3.86,"y":0.27},{"x":4.24,"y":0.17},{"x":4.08,"y":0.23},{"x":3.82,"y":0.3},{"x":4.3,"y":0.14},{"x":3.98,"y":0.26},{"x":4.15,"y":0.19},{"x":3.74,"y":0.33},{"x":4.06,"y":0.21},{"x":3.9,"y":0.16},{"x":4.22,"y":0.28},{"x":3.8,"y":0.37},{"x":4.13,"y":0.45},{"x":4.02,"y":0.5},{"x":3.98,"y":0.54},{"x":4.26,"y":0},{"x":3.93,"y":0},{"x":4.33,"y":0},{"x":3.67,"y":0},{"x":4.1,"y":0},{"x":3.84,"y":0},
{"x":4.73,"y":0.14},{"x":5.21,"y":0.21},{"x":4.88,"y":0.27},{"x":5.05,"y":0.18},{"x":5.29,"y":0.32},{"x":4.81,"y":0.24},{"x":5.14,"y":0.36},{"x":4.96,"y":0.29},{"x":5.25,"y":0.2},{"x":4.7,"y":0.4},{"x":5.09,"y":0.26},{"x":4.85,"y":0.45},{"x":5.19,"y":0.31},{"x":4.92,"y":0.5},{"x":5.01,"y":0.23},{"x":5.27,"y":0.55},{"x":4.77,"y":0.35},{"x":5.11,"y":0.6},{"x":4.99,"y":0.66},{"x":5.17,"y":0.71},{"x":5.21,"y":0.73},{"x":5.07,"y":0.16},{"x":4.87,"y":0},{"x":5.23,"y":0},{"x":4.67,"y":0},{"x":5.33,"y":0},{"x":4.94,"y":0},{"x":5.12,"y":0},
{"x":6.12,"y":0.13},{"x":5.78,"y":0.2},{"x":6.28,"y":0.25},{"x":5.94,"y":0.17},{"x":6.03,"y":0.29},{"x":5.71,"y":0.22},{"x":6.18,"y":0.33},{"x":5.86,"y":0.27},{"x":6.24,"y":0.19},{"x":6.08,"y":0.36},{"x":5.82,"y":0.24},{"x":6.3,"y":0.4},{"x":5.98,"y":0.3},{"x":6.15,"y":0.44},{"x":5.74,"y":0.21},{"x":6.06,"y":0.47},{"x":5.9,"y":0.26},{"x":6.22,"y":0.34},{"x":5.8,"y":0.15},{"x":6.13,"y":0.38},{"x":5.95,"y":0.54},{"x":5.76,"y":0.28},{"x":6.26,"y":0},{"x":5.93,"y":0},{"x":6.33,"y":0},{"x":5.67,"y":0},{"x":6.1,"y":0},{"x":5.84,"y":0},
{"x":6.73,"y":0.12},{"x":7.21,"y":0.2},{"x":6.88,"y":0.27},{"x":7.05,"y":0.17},{"x":7.29,"y":0.31},{"x":6.81,"y":0.24},{"x":7.14,"y":0.36},{"x":6.96,"y":0.29},{"x":7.25,"y":0.22},{"x":6.7,"y":0.4},{"x":7.09,"y":0.33},{"x":6.85,"y":0.45},{"x":7.19,"y":0.26},{"x":6.9,"y":0.96},{"x":7.01,"y":0.38},{"x":7.27,"y":0.56},{"x":6.77,"y":0.62},{"x":7.11,"y":0.67},{"x":6.99,"y":1.03},{"x":7.17,"y":0.72},{"x":6.75,"y":0.5},{"x":7.07,"y":0.15},{"x":6.87,"y":0},{"x":7.23,"y":0},{"x":6.67,"y":0},{"x":7.33,"y":0},{"x":6.94,"y":0},{"x":7.12,"y":0},
{"x":8.12,"y":0.13},{"x":7.78,"y":0.2},{"x":8.28,"y":0.26},{"x":7.94,"y":0.17},{"x":8.03,"y":0.3},{"x":7.71,"y":0.23},{"x":8.18,"y":0.34},{"x":7.86,"y":0.28},{"x":8.24,"y":0.19},{"x":8.08,"y":0.37},{"x":7.82,"y":0.25},{"x":8.3,"y":0.42},{"x":7.98,"y":0.31},{"x":8.15,"y":0.46},{"x":7.74,"y":0.22},{"x":8.06,"y":0.5},{"x":7.9,"y":0.54},{"x":8.22,"y":0.58},{"x":7.8,"y":0.63},{"x":7.9,"y":0.69},{"x":8.02,"y":0.16},{"x":7.76,"y":0.36},{"x":8.26,"y":0},{"x":7.93,"y":0},{"x":8.33,"y":0},{"x":7.67,"y":0},{"x":8.1,"y":0},{"x":7.84,"y":0},
{"x":8.73,"y":0.08},{"x":9.21,"y":0.14},{"x":8.88,"y":0.2},{"x":9.05,"y":0.12},{"x":9.29,"y":0.24},{"x":8.81,"y":0.17},{"x":9.14,"y":0.28},{"x":8.96,"y":0.22},{"x":9.25,"y":0.15},{"x":8.7,"y":0.31},{"x":9.09,"y":0.19},{"x":8.85,"y":0.35},{"x":9.19,"y":0.26},{"x":8.92,"y":0.4},{"x":9.01,"y":0.46},{"x":9.27,"y":0.74},{"x":8.77,"y":0.5},{"x":9.11,"y":0.7},{"x":8.99,"y":0.85},{"x":9.17,"y":0.6},{"x":8.75,"y":0.62},{"x":9.07,"y":0.1},{"x":8.87,"y":0},{"x":9.23,"y":0},{"x":8.67,"y":0},{"x":9.33,"y":0},{"x":8.94,"y":0},{"x":9.12,"y":0},
{"x":10.12,"y":0.07},{"x":9.78,"y":0.12},{"x":10.28,"y":0.18},{"x":9.94,"y":0.1},{"x":10.03,"y":0.21},{"x":9.71,"y":0.15},{"x":10.18,"y":0.25},{"x":9.86,"y":0.19},{"x":10.24,"y":0.13},{"x":10.08,"y":0.28},{"x":9.82,"y":0.17},{"x":10.3,"y":0.32},{"x":9.98,"y":0.22},{"x":10.15,"y":0.35},{"x":9.74,"y":0.24},{"x":10.06,"y":0.4},{"x":9.9,"y":0.45},{"x":10.22,"y":0.5},{"x":9.8,"y":0.55},{"x":10.13,"y":0.6},{"x":10.12,"y":0.63},{"x":9.76,"y":0.14},{"x":10.26,"y":0},{"x":9.93,"y":0},{"x":10.33,"y":0},{"x":9.67,"y":0},{"x":10.1,"y":0},{"x":9.84,"y":0},
{"x":10.73,"y":0.02},{"x":11.21,"y":0.04},{"x":10.88,"y":0.06},{"x":11.05,"y":0.03},{"x":11.29,"y":0.05},{"x":10.81,"y":0.07},{"x":11.14,"y":0.04},{"x":10.96,"y":0.08},{"x":11.25,"y":0.03},{"x":10.7,"y":0.05},{"x":11.09,"y":0.06},{"x":10.85,"y":0.02},{"x":11.19,"y":0.1},{"x":10.92,"y":0.04},{"x":11.01,"y":0.12},{"x":11.27,"y":0.15},{"x":10.77,"y":0.06},{"x":11.11,"y":0.09},{"x":10.99,"y":0.14},{"x":11.17,"y":0.03},{"x":10.75,"y":0.05},{"x":11.07,"y":0.07},{"x":10.87,"y":0},{"x":11.23,"y":0},{"x":10.67,"y":0},{"x":11.33,"y":0},{"x":10.94,"y":0},{"x":11.12,"y":0},
{"x":12.12,"y":0.02},{"x":11.78,"y":0.03},{"x":12.28,"y":0.05},{"x":11.94,"y":0.04},{"x":12.03,"y":0.02},{"x":11.71,"y":0.06},{"x":12.18,"y":0.03},{"x":11.86,"y":0.05},{"x":12.24,"y":0.04},{"x":12.08,"y":0.07},{"x":11.82,"y":0.03},{"x":12.3,"y":0.02},{"x":11.98,"y":0.05},{"x":12.15,"y":0.08},{"x":11.74,"y":0.04},{"x":12.06,"y":0.06},{"x":11.9,"y":0.03},{"x":12.22,"y":0.1},{"x":11.8,"y":0.05},{"x":12.13,"y":0.02},{"x":12.02,"y":0.04},{"x":11.76,"y":0.07},{"x":12.26,"y":0},{"x":11.93,"y":0},{"x":12.33,"y":0},{"x":11.67,"y":0},{"x":12.1,"y":0},{"x":11.84,"y":0},
{"x":0.8,"y":0.23},{"x":1.24,"y":0.27},{"x":0.91,"y":0.2},{"x":1.13,"y":0.3},{"x":0.72,"y":0.25},{"x":1.03,"y":0.32},{"x":1.2,"y":0.18},{"x":0.83,"y":0.28},{"x":1.1,"y":0},{"x":0.76,"y":0},{"x":1.28,"y":0},{"x":0.97,"y":0},
{"x":1.8,"y":0.17},{"x":2.24,"y":0.21},{"x":1.91,"y":0.14},{"x":2.13,"y":0.24},{"x":1.72,"y":0.19},{"x":2.03,"y":0.26},{"x":2.2,"y":0.12},{"x":1.83,"y":0.22},{"x":2.1,"y":0},{"x":1.76,"y":0},{"x":2.28,"y":0},{"x":1.97,"y":0},
{"x":2.8,"y":0.24},{"x":3.24,"y":0.29},{"x":2.91,"y":0.2},{"x":3.13,"y":0.32},{"x":2.72,"y":0.26},{"x":3.03,"y":0.35},{"x":3.2,"y":0.17},{"x":2.83,"y":0.3},{"x":3.1,"y":0},{"x":2.76,"y":0},{"x":3.28,"y":0},{"x":2.97,"y":0},
{"x":3.8,"y":0.16},{"x":4.24,"y":0.2},{"x":3.91,"y":0.13},{"x":4.13,"y":0.23},{"x":3.72,"y":0.18},{"x":4.03,"y":0.25},{"x":4.2,"y":0.11},{"x":3.83,"y":0.21},{"x":4.1,"y":0},{"x":3.76,"y":0},{"x":4.28,"y":0},{"x":3.97,"y":0},
{"x":4.8,"y":0.27},{"x":5.24,"y":0.32},{"x":4.91,"y":0.22},{"x":5.13,"y":0.35},{"x":4.72,"y":0.29},{"x":5.03,"y":0.38},{"x":5.2,"y":0.19},{"x":4.83,"y":0.33},{"x":5.1,"y":0},{"x":4.76,"y":0},{"x":5.28,"y":0},{"x":4.97,"y":0},
{"x":5.8,"y":0.23},{"x":6.24,"y":0.27},{"x":5.91,"y":0.19},{"x":6.13,"y":0.3},{"x":5.72,"y":0.25},{"x":6.03,"y":0.33},{"x":6.2,"y":0.16},{"x":5.83,"y":0.28},{"x":6.1,"y":0},{"x":5.76,"y":0},{"x":6.28,"y":0},{"x":5.97,"y":0},
{"x":6.8,"y":0.3},{"x":7.24,"y":0.36},{"x":6.91,"y":0.25},{"x":7.13,"y":0.4},{"x":6.72,"y":0.33},{"x":7.03,"y":0.43},{"x":7.2,"y":0.21},{"x":6.83,"y":0.38},{"x":7.1,"y":0},{"x":6.76,"y":0},{"x":7.28,"y":0},{"x":6.97,"y":0},
{"x":7.8,"y":0.24},{"x":8.24,"y":0.29},{"x":7.91,"y":0.2},{"x":8.13,"y":0.32},{"x":7.72,"y":0.26},{"x":8.03,"y":0.35},{"x":8.2,"y":0.17},{"x":7.83,"y":0.3},{"x":8.1,"y":0},{"x":7.76,"y":0},{"x":8.28,"y":0},{"x":7.97,"y":0},
{"x":8.8,"y":0.2},{"x":9.24,"y":0.25},{"x":8.91,"y":0.16},{"x":9.13,"y":0.28},{"x":8.72,"y":0.22},{"x":9.03,"y":0.31},{"x":9.2,"y":0.13},{"x":8.83,"y":0.26},{"x":9.1,"y":0},{"x":8.76,"y":0},{"x":9.28,"y":0},{"x":8.97,"y":0},
{"x":9.8,"y":0.17},{"x":10.24,"y":0.21},{"x":9.91,"y":0.13},{"x":10.13,"y":0.24},{"x":9.72,"y":0.19},{"x":10.03,"y":0.27},{"x":10.2,"y":0.11},{"x":9.83,"y":0.22},{"x":10.1,"y":0},{"x":9.76,"y":0},{"x":10.28,"y":0},{"x":9.97,"y":0},
{"x":10.8,"y":0.04},{"x":11.24,"y":0.05},{"x":10.91,"y":0.03},{"x":11.13,"y":0.06},{"x":10.72,"y":0.04},{"x":11.03,"y":0.07},{"x":11.2,"y":0.02},{"x":10.83,"y":0.05},{"x":11.1,"y":0},{"x":10.76,"y":0},{"x":11.28,"y":0},{"x":10.97,"y":0},
{"x":11.8,"y":0.03},{"x":12.24,"y":0.04},{"x":11.91,"y":0.02},{"x":12.13,"y":0.05},{"x":11.72,"y":0.03},{"x":12.03,"y":0.06},{"x":12.2,"y":0.02},{"x":11.83,"y":0.04},{"x":12.1,"y":0},{"x":11.76,"y":0},{"x":12.28,"y":0},{"x":11.97,"y":0}
],
"pd":[
{"x":0.73,"y":0.14},{"x":1.21,"y":0.62},{"x":0.88,"y":0.27},{"x":1.05,"y":0.18},{"x":1.29,"y":0.3},{"x":0.81,"y":0.24},{"x":1.14,"y":0.17},{"x":0.96,"y":0.33},{"x":1.25,"y":0.26},{"x":0.7,"y":0.2},{"x":1.09,"y":0.36},{"x":0.85,"y":0.29},{"x":1.19,"y":0.23},{"x":0.92,"y":0.59},{"x":1.01,"y":0.11},{"x":1.27,"y":0.25},{"x":0.77,"y":0.41},{"x":1.11,"y":0.31},{"x":0.94,"y":0.47},{"x":0.93,"y":0.55},{"x":0.75,"y":0.21},{"x":1.07,"y":0.39},{"x":0.87,"y":0},{"x":1.23,"y":0},{"x":0.67,"y":0},{"x":1.33,"y":0},{"x":0.94,"y":0},{"x":1.12,"y":0},
{"x":2.12,"y":0.1},{"x":1.78,"y":0.15},{"x":2.28,"y":0.2},{"x":1.94,"y":0.12},{"x":2.03,"y":0.23},{"x":1.71,"y":0.17},{"x":2.18,"y":0.08},{"x":1.86,"y":0.26},{"x":2.24,"y":0.14},{"x":2.08,"y":0.21},{"x":1.82,"y":0.29},{"x":2.3,"y":0.11},{"x":1.98,"y":0.24},{"x":2.15,"y":0.18},{"x":1.74,"y":0.31},{"x":2.06,"y":0.19},{"x":1.9,"y":0.13},{"x":2.22,"y":0.27},{"x":1.8,"y":0.22},{"x":2.13,"y":0.16},{"x":1.83,"y":0.34},{"x":2.1,"y":0.38},{"x":2.26,"y":0},{"x":1.93,"y":0},{"x":2.33,"y":0},{"x":1.67,"y":0},{"x":2.1,"y":0},{"x":1.84,"y":0},
{"x":2.73,"y":0.1},{"x":3.21,"y":0.16},{"x":2.88,"y":0.21},{"x":3.05,"y":0.13},{"x":3.29,"y":0.24},{"x":2.81,"y":0.18},{"x":3.14,"y":0.08},{"x":2.96,"y":0.27},{"x":3.25,"y":0.15},{"x":2.7,"y":0.22},{"x":3.09,"y":0.3},{"x":2.85,"y":0.12},{"x":3.19,"y":0.25},{"x":2.92,"y":0.19},{"x":3.01,"y":0.33},{"x":3.27,"y":0.2},{"x":2.77,"y":0.36},{"x":3.11,"y":0.28},{"x":2.99,"y":0.4},{"x":3.17,"y":0.52},{"x":2.75,"y":0.14},{"x":2.94,"y":1.0},{"x":2.87,"y":0},{"x":3.23,"y":0},{"x":2.67,"y":0},{"x":3.33,"y":0},{"x":2.94,"y":0},{"x":3.12,"y":0},
{"x":4.12,"y":0.09},{"x":3.78,"y":0.13},{"x":4.28,"y":0.17},{"x":3.94,"y":0.11},{"x":4.03,"y":0.2},{"x":3.71,"y":0.15},{"x":4.18,"y":0.07},{"x":3.86,"y":0.22},{"x":4.24,"y":0.12},{"x":4.08,"y":0.18},{"x":3.82,"y":0.25},{"x":4.3,"y":0.1},{"x":3.98,"y":0.21},{"x":4.15,"y":0.16},{"x":3.74,"y":0.28},{"x":4.06,"y":0.14},{"x":3.9,"y":0.19},{"x":4.22,"y":0.3},{"x":3.8,"y":0.24},{"x":4.13,"y":0.17},{"x":4.02,"y":0.44},{"x":3.99,"y":0.46},{"x":4.26,"y":0},{"x":3.93,"y":0},{"x":4.33,"y":0},{"x":3.67,"y":0},{"x":4.1,"y":0},{"x":3.84,"y":0},
{"x":4.73,"y":0.1},{"x":5.21,"y":0.69},{"x":4.88,"y":0.64},{"x":5.05,"y":0.14},{"x":5.29,"y":0.27},{"x":4.81,"y":0.2},{"x":5.14,"y":0.31},{"x":4.96,"y":0.25},{"x":5.25,"y":0.16},{"x":4.7,"y":0.34},{"x":5.09,"y":0.22},{"x":4.85,"y":0.37},{"x":5.19,"y":0.28},{"x":4.92,"y":0.4},{"x":5.01,"y":0.19},{"x":5.27,"y":0.44},{"x":4.77,"y":0.26},{"x":5.11,"y":0.5},{"x":4.99,"y":0.55},{"x":5.17,"y":0.58},{"x":4.75,"y":0.23},{"x":5.07,"y":0.17},{"x":4.87,"y":0},{"x":5.23,"y":0},{"x":4.67,"y":0},{"x":5.33,"y":0},{"x":4.94,"y":0},{"x":5.12,"y":0},
{"x":6.12,"y":0.09},{"x":5.78,"y":0.16},{"x":6.28,"y":0.22},{"x":5.94,"y":0.13},{"x":6.03,"y":0.26},{"x":5.71,"y":0.19},{"x":6.18,"y":0.3},{"x":5.86,"y":0.24},{"x":6.24,"y":0.15},{"x":6.08,"y":0.33},{"x":5.82,"y":0.21},{"x":6.3,"y":0.36},{"x":5.98,"y":0.27},{"x":6.15,"y":0.39},{"x":5.74,"y":0.18},{"x":6.06,"y":0.42},{"x":5.9,"y":0.25},{"x":6.22,"y":0.45},{"x":5.89,"y":1.07},{"x":6.13,"y":0.54},{"x":6.02,"y":0.6},{"x":5.76,"y":0.5},{"x":6.26,"y":0},{"x":5.93,"y":0},{"x":6.33,"y":0},{"x":5.67,"y":0},{"x":6.1,"y":0},{"x":5.84,"y":0},
{"x":6.73,"y":0.15},{"x":7.21,"y":0.79},{"x":6.88,"y":0.28},{"x":7.05,"y":0.19},{"x":7.29,"y":0.32},{"x":6.81,"y":0.25},{"x":7.14,"y":0.36},{"x":6.96,"y":0.3},{"x":7.25,"y":0.21},{"x":6.7,"y":0.4},{"x":7.09,"y":0.27},{"x":6.85,"y":0.44},{"x":7.19,"y":0.34},{"x":6.9,"y":0.9},{"x":7.01,"y":0.24},{"x":7.27,"y":0.53},{"x":6.77,"y":0.58},{"x":7.11,"y":0.66},{"x":6.99,"y":0.22},{"x":7.17,"y":0.8},{"x":6.75,"y":0.75},{"x":7.07,"y":0.48},{"x":6.87,"y":0},{"x":7.23,"y":0},{"x":6.67,"y":0},{"x":7.33,"y":0},{"x":6.94,"y":0},{"x":7.12,"y":0},
{"x":8.12,"y":0.1},{"x":7.78,"y":0.17},{"x":8.28,"y":0.23},{"x":7.94,"y":0.14},{"x":8.03,"y":0.27},{"x":7.71,"y":0.2},{"x":8.18,"y":0.31},{"x":7.86,"y":0.25},{"x":8.24,"y":0.16},{"x":8.08,"y":0.34},{"x":7.82,"y":0.22},{"x":8.3,"y":0.37},{"x":7.98,"y":0.28},{"x":8.15,"y":0.4},{"x":7.74,"y":0.19},{"x":8.06,"y":0.44},{"x":7.91,"y":1.27},{"x":8.22,"y":0.5},{"x":7.8,"y":0.3},{"x":8.13,"y":0.26},{"x":8.04,"y":0.77},{"x":7.76,"y":0.47},{"x":8.26,"y":0},{"x":7.93,"y":0},{"x":8.33,"y":0},{"x":7.67,"y":0},{"x":8.1,"y":0},{"x":7.84,"y":0},
{"x":8.73,"y":0.08},{"x":9.21,"y":0.13},{"x":8.88,"y":0.18},{"x":9.05,"y":0.11},{"x":9.29,"y":0.22},{"x":8.81,"y":0.15},{"x":9.14,"y":0.26},{"x":8.96,"y":0.2},{"x":9.25,"y":0.14},{"x":8.7,"y":0.29},{"x":9.09,"y":0.17},{"x":8.85,"y":0.33},{"x":9.19,"y":0.24},{"x":8.92,"y":0.37},{"x":9.01,"y":0.42},{"x":9.27,"y":0.52},{"x":8.77,"y":0.6},{"x":9.11,"y":0.69},{"x":8.99,"y":1.2},{"x":9.17,"y":0.84},{"x":8.75,"y":0.72},{"x":9.07,"y":0.1},{"x":8.87,"y":0},{"x":9.23,"y":0},{"x":8.67,"y":0},{"x":9.33,"y":0},{"x":8.94,"y":0},{"x":9.12,"y":0},
{"x":10.12,"y":0.08},{"x":9.78,"y":0.12},{"x":10.28,"y":0.17},{"x":9.94,"y":0.1},{"x":10.03,"y":0.2},{"x":9.71,"y":0.14},{"x":10.18,"y":0.24},{"x":9.86,"y":0.18},{"x":10.24,"y":0.13},{"x":10.08,"y":0.27},{"x":9.82,"y":0.16},{"x":10.3,"y":0.31},{"x":9.98,"y":0.22},{"x":10.15,"y":0.35},{"x":9.74,"y":0.38},{"x":10.06,"y":0.42},{"x":9.9,"y":1.49},{"x":10.22,"y":0.55},{"x":9.8,"y":0.55},{"x":9.97,"y":0.7},{"x":10.04,"y":0.7},{"x":9.76,"y":0.48},{"x":10.26,"y":0},{"x":9.93,"y":0},{"x":10.33,"y":0},{"x":9.67,"y":0},{"x":10.1,"y":0},{"x":9.84,"y":0},
{"x":10.73,"y":0.02},{"x":11.21,"y":0.04},{"x":10.88,"y":0.06},{"x":11.05,"y":0.03},{"x":11.29,"y":0.05},{"x":10.81,"y":0.07},{"x":11.14,"y":0.04},{"x":10.96,"y":0.08},{"x":11.25,"y":0.03},{"x":10.7,"y":0.05},{"x":11.09,"y":0.06},{"x":10.85,"y":0.02},{"x":11.19,"y":0.1},{"x":10.92,"y":0.04},{"x":11.01,"y":0.11},{"x":11.27,"y":0.13},{"x":10.77,"y":0.06},{"x":11.11,"y":0.17},{"x":10.99,"y":0.19},{"x":11.24,"y":0.26},{"x":10.75,"y":0.05},{"x":11.07,"y":0.03},{"x":10.87,"y":0},{"x":11.23,"y":0},{"x":10.67,"y":0},{"x":11.33,"y":0},{"x":10.94,"y":0},{"x":11.12,"y":0},
{"x":12.12,"y":0.02},{"x":11.78,"y":0.03},{"x":12.28,"y":0.05},{"x":11.94,"y":0.04},{"x":12.03,"y":0.02},{"x":11.71,"y":0.06},{"x":12.18,"y":0.03},{"x":11.86,"y":0.05},{"x":12.24,"y":0.04},{"x":12.08,"y":0.07},{"x":11.82,"y":0.03},{"x":12.3,"y":0.02},{"x":11.98,"y":0.05},{"x":12.15,"y":0.08},{"x":11.74,"y":0.04},{"x":12.06,"y":0.06},{"x":11.89,"y":0.31},{"x":12.22,"y":0.09},{"x":11.8,"y":0.05},{"x":12.13,"y":0.13},{"x":12.02,"y":0.03},{"x":11.76,"y":0.04},{"x":12.26,"y":0},{"x":11.93,"y":0},{"x":12.33,"y":0},{"x":11.67,"y":0},{"x":12.1,"y":0},{"x":11.84,"y":0},
{"x":0.8,"y":0.22},{"x":1.24,"y":0.26},{"x":0.91,"y":0.19},{"x":1.13,"y":0.29},{"x":0.72,"y":0.24},{"x":1.03,"y":0.31},{"x":1.2,"y":0.17},{"x":0.83,"y":0.27},{"x":1.1,"y":0},{"x":0.76,"y":0},{"x":1.28,"y":0},{"x":0.97,"y":0},
{"x":1.8,"y":0.15},{"x":2.24,"y":0.19},{"x":1.91,"y":0.12},{"x":2.13,"y":0.22},{"x":1.72,"y":0.17},{"x":2.03,"y":0.24},{"x":2.2,"y":0.1},{"x":1.83,"y":0.2},{"x":2.1,"y":0},{"x":1.76,"y":0},{"x":2.28,"y":0},{"x":1.97,"y":0},
{"x":2.8,"y":0.17},{"x":3.24,"y":0.21},{"x":2.91,"y":0.14},{"x":3.13,"y":0.24},{"x":2.72,"y":0.19},{"x":3.03,"y":0.26},{"x":3.2,"y":0.12},{"x":2.83,"y":0.22},{"x":3.1,"y":0},{"x":2.76,"y":0},{"x":3.28,"y":0},{"x":2.97,"y":0},
{"x":3.8,"y":0.12},{"x":4.24,"y":0.16},{"x":3.91,"y":0.09},{"x":4.13,"y":0.18},{"x":3.72,"y":0.14},{"x":4.03,"y":0.2},{"x":4.2,"y":0.08},{"x":3.83,"y":0.17},{"x":4.1,"y":0},{"x":3.76,"y":0},{"x":4.28,"y":0},{"x":3.97,"y":0},
{"x":4.8,"y":0.21},{"x":5.24,"y":0.26},{"x":4.91,"y":0.17},{"x":5.13,"y":0.29},{"x":4.72,"y":0.23},{"x":5.03,"y":0.32},{"x":5.2,"y":0.14},{"x":4.83,"y":0.27},{"x":5.1,"y":0},{"x":4.76,"y":0},{"x":5.28,"y":0},{"x":4.97,"y":0},
{"x":5.8,"y":0.2},{"x":6.24,"y":0.25},{"x":5.91,"y":0.16},{"x":6.13,"y":0.28},{"x":5.72,"y":0.22},{"x":6.03,"y":0.31},{"x":6.2,"y":0.13},{"x":5.83,"y":0.26},{"x":6.1,"y":0},{"x":5.76,"y":0},{"x":6.28,"y":0},{"x":5.97,"y":0},
{"x":6.8,"y":0.3},{"x":7.24,"y":0.35},{"x":6.91,"y":0.25},{"x":7.13,"y":0.38},{"x":6.72,"y":0.32},{"x":7.03,"y":0.42},{"x":7.2,"y":0.22},{"x":6.83,"y":0.36},{"x":7.1,"y":0},{"x":6.76,"y":0},{"x":7.28,"y":0},{"x":6.97,"y":0},
{"x":7.8,"y":0.21},{"x":8.24,"y":0.26},{"x":7.91,"y":0.17},{"x":8.13,"y":0.29},{"x":7.72,"y":0.23},{"x":8.03,"y":0.32},{"x":8.2,"y":0.14},{"x":7.83,"y":0.27},{"x":8.1,"y":0},{"x":7.76,"y":0},{"x":8.28,"y":0},{"x":7.97,"y":0},
{"x":8.8,"y":0.18},{"x":9.24,"y":0.23},{"x":8.91,"y":0.14},{"x":9.13,"y":0.26},{"x":8.72,"y":0.2},{"x":9.03,"y":0.29},{"x":9.2,"y":0.12},{"x":8.83,"y":0.24},{"x":9.1,"y":0},{"x":8.76,"y":0},{"x":9.28,"y":0},{"x":8.97,"y":0},
{"x":9.8,"y":0.17},{"x":10.24,"y":0.22},{"x":9.91,"y":0.13},{"x":10.13,"y":0.25},{"x":9.72,"y":0.19},{"x":10.03,"y":0.28},{"x":10.2,"y":0.11},{"x":9.83,"y":0.23},{"x":10.1,"y":0},{"x":9.76,"y":0},{"x":10.28,"y":0},{"x":9.97,"y":0},
{"x":10.8,"y":0.04},{"x":11.24,"y":0.05},{"x":10.91,"y":0.03},{"x":11.13,"y":0.06},{"x":10.72,"y":0.04},{"x":11.03,"y":0.07},{"x":11.2,"y":0.02},{"x":10.83,"y":0.05},{"x":11.1,"y":0},{"x":10.76,"y":0},{"x":11.28,"y":0},{"x":10.97,"y":0},
{"x":11.8,"y":0.03},{"x":12.24,"y":0.04},{"x":11.91,"y":0.02},{"x":12.13,"y":0.05},{"x":11.72,"y":0.03},{"x":12.03,"y":0.06},{"x":12.2,"y":0.02},{"x":11.83,"y":0.04},{"x":12.1,"y":0},{"x":11.76,"y":0},{"x":12.28,"y":0},{"x":11.97,"y":0}
]
},
"vconcat":[
{"width":963,"height":237,
"title":{"text":"(a)","anchor":"start","frame":"group","orient":"top","offset":0,"dx":-54,"dy":8,"font":"Liberation Sans","fontSize":19,"fontWeight":"normal","color":"#111"},
"layer":[
{"data":{"name":"pa"},"transform":[{"filter":"datum.x < 2.5"}],"mark":{"type":"point","shape":"triangle-down","filled":false,"color":"#a3a3a3","strokeWidth":1.1,"size":42},"encoding":{"x":{"field":"x","type":"quantitative","axis":null},"y":{"field":"y","type":"quantitative","axis":null}}},
{"data":{"name":"pa"},"transform":[{"filter":"datum.x >= 2.5 && datum.x < 4.5"}],"mark":{"type":"point","shape":"triangle-up","filled":false,"color":"#a3a3a3","strokeWidth":1.1,"size":42},"encoding":{"x":{"field":"x","type":"quantitative","axis":null},"y":{"field":"y","type":"quantitative","axis":null}}},
{"data":{"name":"pa"},"transform":[{"filter":"datum.x >= 4.5 && datum.x < 6.5"}],"mark":{"type":"point","shape":"triangle-right","filled":false,"color":"#a3a3a3","strokeWidth":1.1,"size":42},"encoding":{"x":{"field":"x","type":"quantitative","axis":null},"y":{"field":"y","type":"quantitative","axis":null}}},
{"data":{"name":"pa"},"transform":[{"filter":"datum.x >= 6.5 && datum.x < 8.5"}],"mark":{"type":"point","shape":"triangle-left","filled":false,"color":"#a3a3a3","strokeWidth":1.1,"size":42},"encoding":{"x":{"field":"x","type":"quantitative","axis":null},"y":{"field":"y","type":"quantitative","axis":null}}},
{"data":{"name":"pa"},"transform":[{"filter":"datum.x >= 8.5 && datum.x < 10.5"}],"mark":{"type":"point","shape":"M-1,0L1,0M0,-1L0,1","filled":false,"color":"#a3a3a3","strokeWidth":1.1,"size":50},"encoding":{"x":{"field":"x","type":"quantitative","axis":null},"y":{"field":"y","type":"quantitative","axis":null}}},
{"data":{"name":"pa"},"transform":[{"filter":"datum.x >= 10.5"}],"mark":{"type":"point","shape":"circle","filled":false,"color":"#a3a3a3","strokeWidth":1.1,"size":40},"encoding":{"x":{"field":"x","type":"quantitative","axis":null},"y":{"field":"y","type":"quantitative","axis":null}}},
{"data":{"name":"ma"},"mark":{"type":"rule","strokeWidth":2.5},"encoding":{"x":{"field":"c","type":"quantitative","scale":{"domain":[0,15],"nice":false,"zero":false},"axis":{"orient":"bottom","values":[1,2,3,4,5,6,7,8,9,10,11,12,13,14],"labelExpr":"['','V','V','A','A','D','D','E','E','F','F','O','O','F0','F0'][datum.value]","tickSize":-8,"labelPadding":15,"title":null}},"y":{"field":"lo","type":"quantitative","scale":{"domain":[0,80],"nice":false,"zero":false},"axis":{"orient":"left","values":[0,5,10,15,20,25,30,35,40,45,50,55,60,65,70,75,80],"labelExpr":"datum.value % 10 === 0 ? datum.label : ''","tickSize":-10,"labelPadding":15,"title":"Latency (ms)","titlePadding":5}},"y2":{"field":"hi"},"stroke":{"field":"g","type":"nominal","scale":{"domain":["Unaided Quiet","Aided Quiet"],"range":["#33449c","#ee2b25"]},"legend":null}}},
{"data":{"name":"ma"},"mark":{"type":"tick","orient":"horizontal","size":16,"thickness":2.5},"encoding":{"x":{"field":"c","type":"quantitative","axis":null},"y":{"field":"lo","type":"quantitative","axis":null},"fill":{"field":"g","type":"nominal","scale":{"domain":["Unaided Quiet","Aided Quiet"],"range":["#33449c","#ee2b25"]},"legend":null}}},
{"data":{"name":"ma"},"mark":{"type":"tick","orient":"horizontal","size":16,"thickness":2.5},"encoding":{"x":{"field":"c","type":"quantitative","axis":null},"y":{"field":"hi","type":"quantitative","axis":null},"fill":{"field":"g","type":"nominal","legend":null}}},
{"data":{"name":"ma"},"mark":{"type":"point","filled":false,"strokeWidth":2,"size":64,"opacity":1},"encoding":{"x":{"field":"c","type":"quantitative","axis":null},"y":{"field":"m","type":"quantitative","axis":null},"color":{"field":"g","type":"nominal","scale":{"domain":["Aided Quiet","Unaided Quiet"],"range":["#ee2b25","#33449c"]},"legend":{"orient":"top-right","offset":20,"title":null}},"shape":{"field":"g","type":"nominal","scale":{"domain":["Aided Quiet","Unaided Quiet"],"range":["M0,-1.2L0.9,0L0,1.2L-0.9,0Z","square"]},"legend":{"orient":"top-right","offset":20,"title":null}}}},
{"data":{"name":"ba"},"mark":{"type":"rule","strokeWidth":2.3,"color":"#1a1a1a","strokeCap":"square"},"encoding":{"x":{"field":"x1","type":"quantitative","axis":null},"x2":{"field":"x2"},"y":{"field":"yh","type":"quantitative","axis":null}}},
{"data":{"name":"ba"},"mark":{"type":"rule","strokeWidth":2.3,"color":"#1a1a1a","strokeCap":"square"},"encoding":{"x":{"field":"x1","type":"quantitative","axis":null},"y":{"field":"yl","type":"quantitative","axis":null},"y2":{"field":"yh"}}},
{"data":{"name":"ba"},"mark":{"type":"rule","strokeWidth":2.3,"color":"#1a1a1a","strokeCap":"square"},"encoding":{"x":{"field":"x2","type":"quantitative","axis":null},"y":{"field":"yl","type":"quantitative","axis":null},"y2":{"field":"yh"}}},
{"data":{"name":"ba"},"mark":{"type":"text","text":"*","font":"Liberation Serif","fontSize":16,"fontWeight":"bold","fill":"#2a2a2a","baseline":"alphabetic","dy":1},"encoding":{"x":{"field":"xm","type":"quantitative","axis":null},"y":{"field":"yh","type":"quantitative","axis":null}}},
{"data":{"name":"ma"},"mark":{"type":"point","opacity":0},"encoding":{"x":{"field":"c","type":"quantitative","scale":{"domain":[0,15],"nice":false,"zero":false},"axis":{"orient":"top","values":[1,2,3,4,5,6,7,8,9,10,11,12,13,14],"labels":false,"tickSize":-8,"title":null}},"y":{"field":"m","type":"quantitative","scale":{"domain":[0,80],"nice":false,"zero":false},"axis":{"orient":"right","values":[0,5,10,15,20,25,30,35,40,45,50,55,60,65,70,75,80],"labels":false,"tickSize":-10,"title":null}}}}
],
"resolve":{"axis":{"x":"independent","y":"independent"}}
},
{"width":963,"height":237,
"title":{"text":"(b)","anchor":"start","frame":"group","orient":"top","offset":0,"dx":-54,"dy":8,"font":"Liberation Sans","fontSize":19,"fontWeight":"normal","color":"#111"},
"layer":[
{"data":{"name":"pb"},"transform":[{"filter":"datum.x < 2.5"}],"mark":{"type":"point","shape":"triangle-down","filled":false,"color":"#a3a3a3","strokeWidth":1.1,"size":42},"encoding":{"x":{"field":"x","type":"quantitative","axis":null},"y":{"field":"y","type":"quantitative","axis":null}}},
{"data":{"name":"pb"},"transform":[{"filter":"datum.x >= 2.5 && datum.x < 4.5"}],"mark":{"type":"point","shape":"triangle-up","filled":false,"color":"#a3a3a3","strokeWidth":1.1,"size":42},"encoding":{"x":{"field":"x","type":"quantitative","axis":null},"y":{"field":"y","type":"quantitative","axis":null}}},
{"data":{"name":"pb"},"transform":[{"filter":"datum.x >= 4.5 && datum.x < 6.5"}],"mark":{"type":"point","shape":"triangle-right","filled":false,"color":"#a3a3a3","strokeWidth":1.1,"size":42},"encoding":{"x":{"field":"x","type":"quantitative","axis":null},"y":{"field":"y","type":"quantitative","axis":null}}},
{"data":{"name":"pb"},"transform":[{"filter":"datum.x >= 6.5 && datum.x < 8.5"}],"mark":{"type":"point","shape":"triangle-left","filled":false,"color":"#a3a3a3","strokeWidth":1.1,"size":42},"encoding":{"x":{"field":"x","type":"quantitative","axis":null},"y":{"field":"y","type":"quantitative","axis":null}}},
{"data":{"name":"pb"},"transform":[{"filter":"datum.x >= 8.5 && datum.x < 10.5"}],"mark":{"type":"point","shape":"M-1,0L1,0M0,-1L0,1","filled":false,"color":"#a3a3a3","strokeWidth":1.1,"size":50},"encoding":{"x":{"field":"x","type":"quantitative","axis":null},"y":{"field":"y","type":"quantitative","axis":null}}},
{"data":{"name":"pb"},"transform":[{"filter":"datum.x >= 10.5"}],"mark":{"type":"point","shape":"circle","filled":false,"color":"#a3a3a3","strokeWidth":1.1,"size":40},"encoding":{"x":{"field":"x","type":"quantitative","axis":null},"y":{"field":"y","type":"quantitative","axis":null}}},
{"data":{"name":"mb"},"mark":{"type":"rule","strokeWidth":2.5},"encoding":{"x":{"field":"c","type":"quantitative","scale":{"domain":[0,15],"nice":false,"zero":false},"axis":{"orient":"bottom","values":[1,2,3,4,5,6,7,8,9,10,11,12,13,14],"labelExpr":"['','V','V','A','A','D','D','E','E','F','F','O','O','F0','F0'][datum.value]","tickSize":-8,"labelPadding":15,"title":null}},"y":{"field":"lo","type":"quantitative","scale":{"domain":[0,80],"nice":false,"zero":false},"axis":{"orient":"left","values":[0,5,10,15,20,25,30,35,40,45,50,55,60,65,70,75,80],"labelExpr":"datum.value % 10 === 0 ? datum.label : ''","tickSize":-10,"labelPadding":15,"title":"Latency (ms)","titlePadding":5}},"y2":{"field":"hi"},"stroke":{"field":"g","type":"nominal","scale":{"domain":["Unaided Noise","Aided Noise"],"range":["#c4449c","#111111"]},"legend":null}}},
{"data":{"name":"mb"},"mark":{"type":"tick","orient":"horizontal","size":16,"thickness":2.5},"encoding":{"x":{"field":"c","type":"quantitative","axis":null},"y":{"field":"lo","type":"quantitative","axis":null},"fill":{"field":"g","type":"nominal","scale":{"domain":["Unaided Noise","Aided Noise"],"range":["#c4449c","#111111"]},"legend":null}}},
{"data":{"name":"mb"},"mark":{"type":"tick","orient":"horizontal","size":16,"thickness":2.5},"encoding":{"x":{"field":"c","type":"quantitative","axis":null},"y":{"field":"hi","type":"quantitative","axis":null},"fill":{"field":"g","type":"nominal","legend":null}}},
{"data":{"name":"mb"},"mark":{"type":"point","filled":false,"strokeWidth":2,"size":64,"opacity":1},"encoding":{"x":{"field":"c","type":"quantitative","axis":null},"y":{"field":"m","type":"quantitative","axis":null},"color":{"field":"g","type":"nominal","scale":{"domain":["Aided Noise","Unaided Noise"],"range":["#111111","#c4449c"]},"legend":{"orient":"top-right","offset":20,"title":null}},"shape":{"field":"g","type":"nominal","scale":{"domain":["Aided Noise","Unaided Noise"],"range":["M0,-1.2L0.9,0L0,1.2L-0.9,0Z","square"]},"legend":{"orient":"top-right","offset":20,"title":null}}}},
{"data":{"name":"bb"},"mark":{"type":"rule","strokeWidth":2.3,"color":"#1a1a1a","strokeCap":"square"},"encoding":{"x":{"field":"x1","type":"quantitative","axis":null},"x2":{"field":"x2"},"y":{"field":"yh","type":"quantitative","axis":null}}},
{"data":{"name":"bb"},"mark":{"type":"rule","strokeWidth":2.3,"color":"#1a1a1a","strokeCap":"square"},"encoding":{"x":{"field":"x1","type":"quantitative","axis":null},"y":{"field":"yl","type":"quantitative","axis":null},"y2":{"field":"yh"}}},
{"data":{"name":"bb"},"mark":{"type":"rule","strokeWidth":2.3,"color":"#1a1a1a","strokeCap":"square"},"encoding":{"x":{"field":"x2","type":"quantitative","axis":null},"y":{"field":"yl","type":"quantitative","axis":null},"y2":{"field":"yh"}}},
{"data":{"name":"bb"},"mark":{"type":"text","text":"*","font":"Liberation Serif","fontSize":16,"fontWeight":"bold","fill":"#2a2a2a","baseline":"alphabetic","dy":1},"encoding":{"x":{"field":"xm","type":"quantitative","axis":null},"y":{"field":"yh","type":"quantitative","axis":null}}},
{"data":{"name":"mb"},"mark":{"type":"point","opacity":0},"encoding":{"x":{"field":"c","type":"quantitative","scale":{"domain":[0,15],"nice":false,"zero":false},"axis":{"orient":"top","values":[1,2,3,4,5,6,7,8,9,10,11,12,13,14],"labels":false,"tickSize":-8,"title":null}},"y":{"field":"m","type":"quantitative","scale":{"domain":[0,80],"nice":false,"zero":false},"axis":{"orient":"right","values":[0,5,10,15,20,25,30,35,40,45,50,55,60,65,70,75,80],"labels":false,"tickSize":-10,"title":null}}}}
],
"resolve":{"axis":{"x":"independent","y":"independent"}}
},
{"width":963,"height":237,
"title":{"text":"(c)","anchor":"start","frame":"group","orient":"top","offset":0,"dx":-54,"dy":8,"font":"Liberation Sans","fontSize":19,"fontWeight":"normal","color":"#111"},
"layer":[
{"data":{"name":"pc"},"transform":[{"filter":"datum.x < 2.5"}],"mark":{"type":"point","shape":"triangle-down","filled":false,"color":"#a3a3a3","strokeWidth":1.1,"size":42},"encoding":{"x":{"field":"x","type":"quantitative","axis":null},"y":{"field":"y","type":"quantitative","axis":null}}},
{"data":{"name":"pc"},"transform":[{"filter":"datum.x >= 2.5 && datum.x < 4.5"}],"mark":{"type":"point","shape":"triangle-right","filled":false,"color":"#a3a3a3","strokeWidth":1.1,"size":42},"encoding":{"x":{"field":"x","type":"quantitative","axis":null},"y":{"field":"y","type":"quantitative","axis":null}}},
{"data":{"name":"pc"},"transform":[{"filter":"datum.x >= 4.5 && datum.x < 6.5"}],"mark":{"type":"point","shape":"triangle-left","filled":false,"color":"#a3a3a3","strokeWidth":1.1,"size":42},"encoding":{"x":{"field":"x","type":"quantitative","axis":null},"y":{"field":"y","type":"quantitative","axis":null}}},
{"data":{"name":"pc"},"transform":[{"filter":"datum.x >= 6.5 && datum.x < 8.5"}],"mark":{"type":"point","shape":"M-1,0L1,0M0,-1L0,1","filled":false,"color":"#a3a3a3","strokeWidth":1.1,"size":50},"encoding":{"x":{"field":"x","type":"quantitative","axis":null},"y":{"field":"y","type":"quantitative","axis":null}}},
{"data":{"name":"pc"},"transform":[{"filter":"datum.x >= 8.5"}],"mark":{"type":"point","shape":"circle","filled":false,"color":"#a3a3a3","strokeWidth":1.1,"size":40},"encoding":{"x":{"field":"x","type":"quantitative","axis":null},"y":{"field":"y","type":"quantitative","axis":null}}},
{"data":{"name":"mc"},"mark":{"type":"rule","strokeWidth":2.5},"encoding":{"x":{"field":"c","type":"quantitative","scale":{"domain":[0,13],"nice":false,"zero":false},"axis":{"orient":"bottom","values":[1,2,3,4,5,6,7,8,9,10,11,12],"labelExpr":"['','VA','VA','D','D','E','E','F','F','O','O','F0','F0'][datum.value]","tickSize":-8,"labelPadding":15,"title":null}},"y":{"field":"lo","type":"quantitative","scale":{"domain":[0,1.6],"nice":false,"zero":false},"axis":{"orient":"left","values":[0,0.1,0.2,0.3,0.4,0.5,0.6,0.7,0.8,0.9,1,1.1,1.2,1.3,1.4,1.5,1.6],"labelExpr":"round(datum.value*10) % 2 === 0 ? (datum.value === 0 ? '0' : format(datum.value, '.1f')) : ''","tickSize":-10,"labelPadding":15,"title":"Amplitude (µV)","titlePadding":5}},"y2":{"field":"hi"},"stroke":{"field":"g","type":"nominal","scale":{"domain":["Unaided Quiet","Aided Quiet"],"range":["#33449c","#ee2b25"]},"legend":null}}},
{"data":{"name":"mc"},"mark":{"type":"tick","orient":"horizontal","size":18,"thickness":2.5},"encoding":{"x":{"field":"c","type":"quantitative","axis":null},"y":{"field":"lo","type":"quantitative","axis":null},"fill":{"field":"g","type":"nominal","scale":{"domain":["Unaided Quiet","Aided Quiet"],"range":["#33449c","#ee2b25"]},"legend":null}}},
{"data":{"name":"mc"},"mark":{"type":"tick","orient":"horizontal","size":18,"thickness":2.5},"encoding":{"x":{"field":"c","type":"quantitative","axis":null},"y":{"field":"hi","type":"quantitative","axis":null},"fill":{"field":"g","type":"nominal","legend":null}}},
{"data":{"name":"mc"},"mark":{"type":"point","filled":false,"strokeWidth":2,"size":64,"opacity":1},"encoding":{"x":{"field":"c","type":"quantitative","axis":null},"y":{"field":"m","type":"quantitative","axis":null},"color":{"field":"g","type":"nominal","scale":{"domain":["Aided Quiet","Unaided Quiet"],"range":["#ee2b25","#33449c"]},"legend":{"orient":"top-right","offset":20,"title":null}},"shape":{"field":"g","type":"nominal","scale":{"domain":["Aided Quiet","Unaided Quiet"],"range":["M0,-1.2L0.9,0L0,1.2L-0.9,0Z","square"]},"legend":{"orient":"top-right","offset":20,"title":null}}}},
{"data":{"name":"bc"},"mark":{"type":"rule","strokeWidth":2.3,"color":"#1a1a1a","strokeCap":"square"},"encoding":{"x":{"field":"x1","type":"quantitative","axis":null},"x2":{"field":"x2"},"y":{"field":"yh","type":"quantitative","axis":null}}},
{"data":{"name":"bc"},"mark":{"type":"rule","strokeWidth":2.3,"color":"#1a1a1a","strokeCap":"square"},"encoding":{"x":{"field":"x1","type":"quantitative","axis":null},"y":{"field":"yl","type":"quantitative","axis":null},"y2":{"field":"yh"}}},
{"data":{"name":"bc"},"mark":{"type":"rule","strokeWidth":2.3,"color":"#1a1a1a","strokeCap":"square"},"encoding":{"x":{"field":"x2","type":"quantitative","axis":null},"y":{"field":"yl","type":"quantitative","axis":null},"y2":{"field":"yh"}}},
{"data":{"name":"bc"},"mark":{"type":"text","text":"*","font":"Liberation Serif","fontSize":16,"fontWeight":"bold","fill":"#2a2a2a","baseline":"alphabetic","dy":1},"encoding":{"x":{"field":"xm","type":"quantitative","axis":null},"y":{"field":"yh","type":"quantitative","axis":null}}},
{"data":{"name":"mc"},"mark":{"type":"point","opacity":0},"encoding":{"x":{"field":"c","type":"quantitative","scale":{"domain":[0,13],"nice":false,"zero":false},"axis":{"orient":"top","values":[1,2,3,4,5,6,7,8,9,10,11,12],"labels":false,"tickSize":-8,"title":null}},"y":{"field":"m","type":"quantitative","scale":{"domain":[0,1.6],"nice":false,"zero":false},"axis":{"orient":"right","values":[0,0.1,0.2,0.3,0.4,0.5,0.6,0.7,0.8,0.9,1,1.1,1.2,1.3,1.4,1.5,1.6],"labels":false,"tickSize":-10,"title":null}}}}
],
"resolve":{"axis":{"x":"independent","y":"independent"}}
},
{"width":963,"height":237,
"title":{"text":"(d)","anchor":"start","frame":"group","orient":"top","offset":0,"dx":-54,"dy":8,"font":"Liberation Sans","fontSize":19,"fontWeight":"normal","color":"#111"},
"layer":[
{"data":{"name":"pd"},"transform":[{"filter":"datum.x < 2.5"}],"mark":{"type":"point","shape":"triangle-down","filled":false,"color":"#a3a3a3","strokeWidth":1.1,"size":42},"encoding":{"x":{"field":"x","type":"quantitative","axis":null},"y":{"field":"y","type":"quantitative","axis":null}}},
{"data":{"name":"pd"},"transform":[{"filter":"datum.x >= 2.5 && datum.x < 4.5"}],"mark":{"type":"point","shape":"triangle-right","filled":false,"color":"#a3a3a3","strokeWidth":1.1,"size":42},"encoding":{"x":{"field":"x","type":"quantitative","axis":null},"y":{"field":"y","type":"quantitative","axis":null}}},
{"data":{"name":"pd"},"transform":[{"filter":"datum.x >= 4.5 && datum.x < 6.5"}],"mark":{"type":"point","shape":"triangle-left","filled":false,"color":"#a3a3a3","strokeWidth":1.1,"size":42},"encoding":{"x":{"field":"x","type":"quantitative","axis":null},"y":{"field":"y","type":"quantitative","axis":null}}},
{"data":{"name":"pd"},"transform":[{"filter":"datum.x >= 6.5 && datum.x < 8.5"}],"mark":{"type":"point","shape":"M-1,0L1,0M0,-1L0,1","filled":false,"color":"#a3a3a3","strokeWidth":1.1,"size":50},"encoding":{"x":{"field":"x","type":"quantitative","axis":null},"y":{"field":"y","type":"quantitative","axis":null}}},
{"data":{"name":"pd"},"transform":[{"filter":"datum.x >= 8.5"}],"mark":{"type":"point","shape":"circle","filled":false,"color":"#a3a3a3","strokeWidth":1.1,"size":40},"encoding":{"x":{"field":"x","type":"quantitative","axis":null},"y":{"field":"y","type":"quantitative","axis":null}}},
{"data":{"name":"md"},"mark":{"type":"rule","strokeWidth":2.5},"encoding":{"x":{"field":"c","type":"quantitative","scale":{"domain":[0,13],"nice":false,"zero":false},"axis":{"orient":"bottom","values":[1,2,3,4,5,6,7,8,9,10,11,12],"labelExpr":"['','VA','VA','D','D','E','E','F','F','O','O','F0','F0'][datum.value]","tickSize":-8,"labelPadding":15,"title":null}},"y":{"field":"lo","type":"quantitative","scale":{"domain":[0,1.6],"nice":false,"zero":false},"axis":{"orient":"left","values":[0,0.1,0.2,0.3,0.4,0.5,0.6,0.7,0.8,0.9,1,1.1,1.2,1.3,1.4,1.5,1.6],"labelExpr":"round(datum.value*10) % 2 === 0 ? (datum.value === 0 ? '0' : format(datum.value, '.1f')) : ''","tickSize":-10,"labelPadding":15,"title":"Amplitude (µV)","titlePadding":5}},"y2":{"field":"hi"},"stroke":{"field":"g","type":"nominal","scale":{"domain":["Unaided Noise","Aided Noise"],"range":["#c4449c","#111111"]},"legend":null}}},
{"data":{"name":"md"},"mark":{"type":"tick","orient":"horizontal","size":18,"thickness":2.5},"encoding":{"x":{"field":"c","type":"quantitative","axis":null},"y":{"field":"lo","type":"quantitative","axis":null},"fill":{"field":"g","type":"nominal","scale":{"domain":["Unaided Noise","Aided Noise"],"range":["#c4449c","#111111"]},"legend":null}}},
{"data":{"name":"md"},"mark":{"type":"tick","orient":"horizontal","size":18,"thickness":2.5},"encoding":{"x":{"field":"c","type":"quantitative","axis":null},"y":{"field":"hi","type":"quantitative","axis":null},"fill":{"field":"g","type":"nominal","legend":null}}},
{"data":{"name":"md"},"mark":{"type":"point","filled":false,"strokeWidth":2,"size":64,"opacity":1},"encoding":{"x":{"field":"c","type":"quantitative","axis":null},"y":{"field":"m","type":"quantitative","axis":null},"color":{"field":"g","type":"nominal","scale":{"domain":["Aided Noise","Unaided Noise"],"range":["#111111","#c4449c"]},"legend":{"orient":"top-right","offset":20,"title":null}},"shape":{"field":"g","type":"nominal","scale":{"domain":["Aided Noise","Unaided Noise"],"range":["M0,-1.2L0.9,0L0,1.2L-0.9,0Z","square"]},"legend":{"orient":"top-right","offset":20,"title":null}}}},
{"data":{"name":"bd"},"mark":{"type":"rule","strokeWidth":2.3,"color":"#1a1a1a","strokeCap":"square"},"encoding":{"x":{"field":"x1","type":"quantitative","axis":null},"x2":{"field":"x2"},"y":{"field":"yh","type":"quantitative","axis":null}}},
{"data":{"name":"bd"},"mark":{"type":"rule","strokeWidth":2.3,"color":"#1a1a1a","strokeCap":"square"},"encoding":{"x":{"field":"x1","type":"quantitative","axis":null},"y":{"field":"yl","type":"quantitative","axis":null},"y2":{"field":"yh"}}},
{"data":{"name":"bd"},"mark":{"type":"rule","strokeWidth":2.3,"color":"#1a1a1a","strokeCap":"square"},"encoding":{"x":{"field":"x2","type":"quantitative","axis":null},"y":{"field":"yl","type":"quantitative","axis":null},"y2":{"field":"yh"}}},
{"data":{"name":"bd"},"mark":{"type":"text","text":"*","font":"Liberation Serif","fontSize":16,"fontWeight":"bold","fill":"#2a2a2a","baseline":"alphabetic","dy":1},"encoding":{"x":{"field":"xm","type":"quantitative","axis":null},"y":{"field":"yh","type":"quantitative","axis":null}}},
{"data":{"name":"md"},"mark":{"type":"point","opacity":0},"encoding":{"x":{"field":"c","type":"quantitative","scale":{"domain":[0,13],"nice":false,"zero":false},"axis":{"orient":"top","values":[1,2,3,4,5,6,7,8,9,10,11,12],"labels":false,"tickSize":-8,"title":null}},"y":{"field":"m","type":"quantitative","scale":{"domain":[0,1.6],"nice":false,"zero":false},"axis":{"orient":"right","values":[0,0.1,0.2,0.3,0.4,0.5,0.6,0.7,0.8,0.9,1,1.1,1.2,1.3,1.4,1.5,1.6],"labels":false,"tickSize":-10,"title":null}}}}
],
"resolve":{"axis":{"x":"independent","y":"independent"}}
}
],
"resolve":{"scale":{"color":"independent","shape":"independent","stroke":"independent","fill":"independent"}},
"config":{
"view":{"stroke":"#262626","strokeWidth":1.8},
"axis":{"domain":false,"grid":false,"tickColor":"#262626","tickWidth":1.5,"labelFont":"Liberation Serif","labelFontWeight":"bold","labelFontSize":14,"labelColor":"#111","titleFont":"Liberation Serif","titleFontWeight":"bold","titleFontSize":16,"titleColor":"#111"},
"legend":{"labelFont":"Liberation Serif","labelFontWeight":"bold","labelFontSize":12,"labelColor":"#111","strokeColor":"#111","strokeWidth":1.5,"fillColor":"white","padding":3,"symbolStrokeWidth":2,"symbolSize":64,"rowPadding":1,"labelOffset":8,"symbolOffset":12,"cornerRadius":0}
}
}
